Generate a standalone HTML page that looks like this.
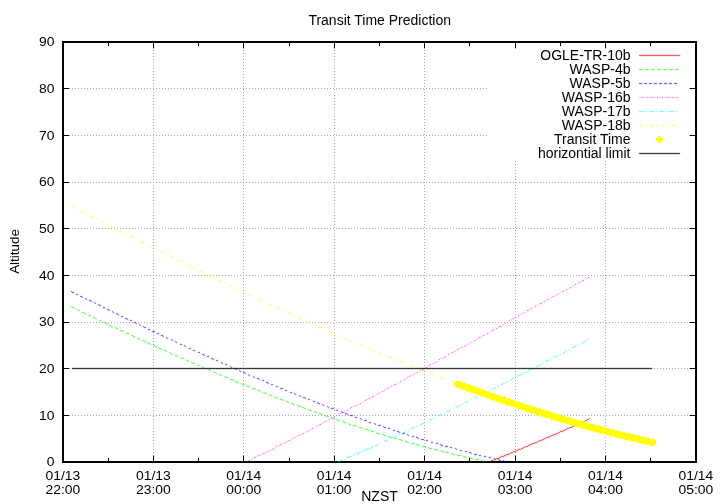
<!DOCTYPE html><html><head><meta charset="utf-8"><title>Transit Time Prediction</title><style>
html,body{margin:0;padding:0;background:#fff;width:720px;height:504px;overflow:hidden}
svg{display:block}
text{font-family:"Liberation Sans", Arial, Helvetica, sans-serif;font-size:14px;fill:#000;letter-spacing:0} .tk{letter-spacing:0} .num{font-size:13px}
</style></head><body>
<svg width="720" height="504" viewBox="0 0 720 504">
<defs><filter id="soft" x="0" y="0" width="720" height="504" filterUnits="userSpaceOnUse" color-interpolation-filters="sRGB"><feConvolveMatrix order="3" kernelMatrix="0.02 0.08 0.02 0.08 0.6 0.08 0.02 0.08 0.02" divisor="1" preserveAlpha="false"/></filter></defs>
<rect width="720" height="504" fill="#fff"/>
<path fill="#a8a8a8" d="M72,415h1v1h-1zM75,415h1v1h-1zM78,415h1v1h-1zM81,415h1v1h-1zM84,415h1v1h-1zM87,415h1v1h-1zM90,415h1v1h-1zM93,415h1v1h-1zM96,415h1v1h-1zM99,415h1v1h-1zM102,415h1v1h-1zM105,415h1v1h-1zM108,415h1v1h-1zM111,415h1v1h-1zM114,415h1v1h-1zM117,415h1v1h-1zM120,415h1v1h-1zM123,415h1v1h-1zM126,415h1v1h-1zM129,415h1v1h-1zM132,415h1v1h-1zM135,415h1v1h-1zM138,415h1v1h-1zM141,415h1v1h-1zM144,415h1v1h-1zM147,415h1v1h-1zM150,415h1v1h-1zM153,415h1v1h-1zM156,415h1v1h-1zM159,415h1v1h-1zM162,415h1v1h-1zM165,415h1v1h-1zM168,415h1v1h-1zM171,415h1v1h-1zM174,415h1v1h-1zM177,415h1v1h-1zM180,415h1v1h-1zM183,415h1v1h-1zM186,415h1v1h-1zM189,415h1v1h-1zM192,415h1v1h-1zM195,415h1v1h-1zM198,415h1v1h-1zM201,415h1v1h-1zM204,415h1v1h-1zM207,415h1v1h-1zM210,415h1v1h-1zM213,415h1v1h-1zM216,415h1v1h-1zM219,415h1v1h-1zM222,415h1v1h-1zM225,415h1v1h-1zM228,415h1v1h-1zM231,415h1v1h-1zM234,415h1v1h-1zM237,415h1v1h-1zM240,415h1v1h-1zM243,415h1v1h-1zM246,415h1v1h-1zM249,415h1v1h-1zM252,415h1v1h-1zM255,415h1v1h-1zM258,415h1v1h-1zM261,415h1v1h-1zM264,415h1v1h-1zM267,415h1v1h-1zM270,415h1v1h-1zM273,415h1v1h-1zM276,415h1v1h-1zM279,415h1v1h-1zM282,415h1v1h-1zM285,415h1v1h-1zM288,415h1v1h-1zM291,415h1v1h-1zM294,415h1v1h-1zM297,415h1v1h-1zM300,415h1v1h-1zM303,415h1v1h-1zM306,415h1v1h-1zM309,415h1v1h-1zM312,415h1v1h-1zM315,415h1v1h-1zM318,415h1v1h-1zM321,415h1v1h-1zM324,415h1v1h-1zM327,415h1v1h-1zM330,415h1v1h-1zM333,415h1v1h-1zM336,415h1v1h-1zM339,415h1v1h-1zM342,415h1v1h-1zM345,415h1v1h-1zM348,415h1v1h-1zM351,415h1v1h-1zM354,415h1v1h-1zM357,415h1v1h-1zM360,415h1v1h-1zM363,415h1v1h-1zM366,415h1v1h-1zM369,415h1v1h-1zM372,415h1v1h-1zM375,415h1v1h-1zM378,415h1v1h-1zM381,415h1v1h-1zM384,415h1v1h-1zM387,415h1v1h-1zM390,415h1v1h-1zM393,415h1v1h-1zM396,415h1v1h-1zM399,415h1v1h-1zM402,415h1v1h-1zM405,415h1v1h-1zM408,415h1v1h-1zM411,415h1v1h-1zM414,415h1v1h-1zM417,415h1v1h-1zM420,415h1v1h-1zM423,415h1v1h-1zM426,415h1v1h-1zM429,415h1v1h-1zM432,415h1v1h-1zM435,415h1v1h-1zM438,415h1v1h-1zM441,415h1v1h-1zM444,415h1v1h-1zM447,415h1v1h-1zM450,415h1v1h-1zM453,415h1v1h-1zM456,415h1v1h-1zM459,415h1v1h-1zM462,415h1v1h-1zM465,415h1v1h-1zM468,415h1v1h-1zM471,415h1v1h-1zM474,415h1v1h-1zM477,415h1v1h-1zM480,415h1v1h-1zM483,415h1v1h-1zM486,415h1v1h-1zM489,415h1v1h-1zM492,415h1v1h-1zM495,415h1v1h-1zM498,415h1v1h-1zM501,415h1v1h-1zM504,415h1v1h-1zM507,415h1v1h-1zM510,415h1v1h-1zM513,415h1v1h-1zM516,415h1v1h-1zM519,415h1v1h-1zM522,415h1v1h-1zM525,415h1v1h-1zM528,415h1v1h-1zM531,415h1v1h-1zM534,415h1v1h-1zM537,415h1v1h-1zM540,415h1v1h-1zM543,415h1v1h-1zM546,415h1v1h-1zM549,415h1v1h-1zM552,415h1v1h-1zM555,415h1v1h-1zM558,415h1v1h-1zM561,415h1v1h-1zM564,415h1v1h-1zM567,415h1v1h-1zM570,415h1v1h-1zM573,415h1v1h-1zM576,415h1v1h-1zM579,415h1v1h-1zM582,415h1v1h-1zM585,415h1v1h-1zM588,415h1v1h-1zM591,415h1v1h-1zM594,415h1v1h-1zM597,415h1v1h-1zM600,415h1v1h-1zM603,415h1v1h-1zM606,415h1v1h-1zM609,415h1v1h-1zM612,415h1v1h-1zM615,415h1v1h-1zM618,415h1v1h-1zM621,415h1v1h-1zM624,415h1v1h-1zM627,415h1v1h-1zM630,415h1v1h-1zM633,415h1v1h-1zM636,415h1v1h-1zM639,415h1v1h-1zM642,415h1v1h-1zM645,415h1v1h-1zM648,415h1v1h-1zM651,415h1v1h-1zM654,415h1v1h-1zM657,415h1v1h-1zM660,415h1v1h-1zM663,415h1v1h-1zM666,415h1v1h-1zM669,415h1v1h-1zM672,415h1v1h-1zM675,415h1v1h-1zM678,415h1v1h-1zM681,415h1v1h-1zM684,415h1v1h-1zM687,415h1v1h-1zM690,415h1v1h-1zM693,415h1v1h-1zM72,368h1v1h-1zM75,368h1v1h-1zM78,368h1v1h-1zM81,368h1v1h-1zM84,368h1v1h-1zM87,368h1v1h-1zM90,368h1v1h-1zM93,368h1v1h-1zM96,368h1v1h-1zM99,368h1v1h-1zM102,368h1v1h-1zM105,368h1v1h-1zM108,368h1v1h-1zM111,368h1v1h-1zM114,368h1v1h-1zM117,368h1v1h-1zM120,368h1v1h-1zM123,368h1v1h-1zM126,368h1v1h-1zM129,368h1v1h-1zM132,368h1v1h-1zM135,368h1v1h-1zM138,368h1v1h-1zM141,368h1v1h-1zM144,368h1v1h-1zM147,368h1v1h-1zM150,368h1v1h-1zM153,368h1v1h-1zM156,368h1v1h-1zM159,368h1v1h-1zM162,368h1v1h-1zM165,368h1v1h-1zM168,368h1v1h-1zM171,368h1v1h-1zM174,368h1v1h-1zM177,368h1v1h-1zM180,368h1v1h-1zM183,368h1v1h-1zM186,368h1v1h-1zM189,368h1v1h-1zM192,368h1v1h-1zM195,368h1v1h-1zM198,368h1v1h-1zM201,368h1v1h-1zM204,368h1v1h-1zM207,368h1v1h-1zM210,368h1v1h-1zM213,368h1v1h-1zM216,368h1v1h-1zM219,368h1v1h-1zM222,368h1v1h-1zM225,368h1v1h-1zM228,368h1v1h-1zM231,368h1v1h-1zM234,368h1v1h-1zM237,368h1v1h-1zM240,368h1v1h-1zM243,368h1v1h-1zM246,368h1v1h-1zM249,368h1v1h-1zM252,368h1v1h-1zM255,368h1v1h-1zM258,368h1v1h-1zM261,368h1v1h-1zM264,368h1v1h-1zM267,368h1v1h-1zM270,368h1v1h-1zM273,368h1v1h-1zM276,368h1v1h-1zM279,368h1v1h-1zM282,368h1v1h-1zM285,368h1v1h-1zM288,368h1v1h-1zM291,368h1v1h-1zM294,368h1v1h-1zM297,368h1v1h-1zM300,368h1v1h-1zM303,368h1v1h-1zM306,368h1v1h-1zM309,368h1v1h-1zM312,368h1v1h-1zM315,368h1v1h-1zM318,368h1v1h-1zM321,368h1v1h-1zM324,368h1v1h-1zM327,368h1v1h-1zM330,368h1v1h-1zM333,368h1v1h-1zM336,368h1v1h-1zM339,368h1v1h-1zM342,368h1v1h-1zM345,368h1v1h-1zM348,368h1v1h-1zM351,368h1v1h-1zM354,368h1v1h-1zM357,368h1v1h-1zM360,368h1v1h-1zM363,368h1v1h-1zM366,368h1v1h-1zM369,368h1v1h-1zM372,368h1v1h-1zM375,368h1v1h-1zM378,368h1v1h-1zM381,368h1v1h-1zM384,368h1v1h-1zM387,368h1v1h-1zM390,368h1v1h-1zM393,368h1v1h-1zM396,368h1v1h-1zM399,368h1v1h-1zM402,368h1v1h-1zM405,368h1v1h-1zM408,368h1v1h-1zM411,368h1v1h-1zM414,368h1v1h-1zM417,368h1v1h-1zM420,368h1v1h-1zM423,368h1v1h-1zM426,368h1v1h-1zM429,368h1v1h-1zM432,368h1v1h-1zM435,368h1v1h-1zM438,368h1v1h-1zM441,368h1v1h-1zM444,368h1v1h-1zM447,368h1v1h-1zM450,368h1v1h-1zM453,368h1v1h-1zM456,368h1v1h-1zM459,368h1v1h-1zM462,368h1v1h-1zM465,368h1v1h-1zM468,368h1v1h-1zM471,368h1v1h-1zM474,368h1v1h-1zM477,368h1v1h-1zM480,368h1v1h-1zM483,368h1v1h-1zM486,368h1v1h-1zM489,368h1v1h-1zM492,368h1v1h-1zM495,368h1v1h-1zM498,368h1v1h-1zM501,368h1v1h-1zM504,368h1v1h-1zM507,368h1v1h-1zM510,368h1v1h-1zM513,368h1v1h-1zM516,368h1v1h-1zM519,368h1v1h-1zM522,368h1v1h-1zM525,368h1v1h-1zM528,368h1v1h-1zM531,368h1v1h-1zM534,368h1v1h-1zM537,368h1v1h-1zM540,368h1v1h-1zM543,368h1v1h-1zM546,368h1v1h-1zM549,368h1v1h-1zM552,368h1v1h-1zM555,368h1v1h-1zM558,368h1v1h-1zM561,368h1v1h-1zM564,368h1v1h-1zM567,368h1v1h-1zM570,368h1v1h-1zM573,368h1v1h-1zM576,368h1v1h-1zM579,368h1v1h-1zM582,368h1v1h-1zM585,368h1v1h-1zM588,368h1v1h-1zM591,368h1v1h-1zM594,368h1v1h-1zM597,368h1v1h-1zM600,368h1v1h-1zM603,368h1v1h-1zM606,368h1v1h-1zM609,368h1v1h-1zM612,368h1v1h-1zM615,368h1v1h-1zM618,368h1v1h-1zM621,368h1v1h-1zM624,368h1v1h-1zM627,368h1v1h-1zM630,368h1v1h-1zM633,368h1v1h-1zM636,368h1v1h-1zM639,368h1v1h-1zM642,368h1v1h-1zM645,368h1v1h-1zM648,368h1v1h-1zM651,368h1v1h-1zM654,368h1v1h-1zM657,368h1v1h-1zM660,368h1v1h-1zM663,368h1v1h-1zM666,368h1v1h-1zM669,368h1v1h-1zM672,368h1v1h-1zM675,368h1v1h-1zM678,368h1v1h-1zM681,368h1v1h-1zM684,368h1v1h-1zM687,368h1v1h-1zM690,368h1v1h-1zM693,368h1v1h-1zM72,322h1v1h-1zM75,322h1v1h-1zM78,322h1v1h-1zM81,322h1v1h-1zM84,322h1v1h-1zM87,322h1v1h-1zM90,322h1v1h-1zM93,322h1v1h-1zM96,322h1v1h-1zM99,322h1v1h-1zM102,322h1v1h-1zM105,322h1v1h-1zM108,322h1v1h-1zM111,322h1v1h-1zM114,322h1v1h-1zM117,322h1v1h-1zM120,322h1v1h-1zM123,322h1v1h-1zM126,322h1v1h-1zM129,322h1v1h-1zM132,322h1v1h-1zM135,322h1v1h-1zM138,322h1v1h-1zM141,322h1v1h-1zM144,322h1v1h-1zM147,322h1v1h-1zM150,322h1v1h-1zM153,322h1v1h-1zM156,322h1v1h-1zM159,322h1v1h-1zM162,322h1v1h-1zM165,322h1v1h-1zM168,322h1v1h-1zM171,322h1v1h-1zM174,322h1v1h-1zM177,322h1v1h-1zM180,322h1v1h-1zM183,322h1v1h-1zM186,322h1v1h-1zM189,322h1v1h-1zM192,322h1v1h-1zM195,322h1v1h-1zM198,322h1v1h-1zM201,322h1v1h-1zM204,322h1v1h-1zM207,322h1v1h-1zM210,322h1v1h-1zM213,322h1v1h-1zM216,322h1v1h-1zM219,322h1v1h-1zM222,322h1v1h-1zM225,322h1v1h-1zM228,322h1v1h-1zM231,322h1v1h-1zM234,322h1v1h-1zM237,322h1v1h-1zM240,322h1v1h-1zM243,322h1v1h-1zM246,322h1v1h-1zM249,322h1v1h-1zM252,322h1v1h-1zM255,322h1v1h-1zM258,322h1v1h-1zM261,322h1v1h-1zM264,322h1v1h-1zM267,322h1v1h-1zM270,322h1v1h-1zM273,322h1v1h-1zM276,322h1v1h-1zM279,322h1v1h-1zM282,322h1v1h-1zM285,322h1v1h-1zM288,322h1v1h-1zM291,322h1v1h-1zM294,322h1v1h-1zM297,322h1v1h-1zM300,322h1v1h-1zM303,322h1v1h-1zM306,322h1v1h-1zM309,322h1v1h-1zM312,322h1v1h-1zM315,322h1v1h-1zM318,322h1v1h-1zM321,322h1v1h-1zM324,322h1v1h-1zM327,322h1v1h-1zM330,322h1v1h-1zM333,322h1v1h-1zM336,322h1v1h-1zM339,322h1v1h-1zM342,322h1v1h-1zM345,322h1v1h-1zM348,322h1v1h-1zM351,322h1v1h-1zM354,322h1v1h-1zM357,322h1v1h-1zM360,322h1v1h-1zM363,322h1v1h-1zM366,322h1v1h-1zM369,322h1v1h-1zM372,322h1v1h-1zM375,322h1v1h-1zM378,322h1v1h-1zM381,322h1v1h-1zM384,322h1v1h-1zM387,322h1v1h-1zM390,322h1v1h-1zM393,322h1v1h-1zM396,322h1v1h-1zM399,322h1v1h-1zM402,322h1v1h-1zM405,322h1v1h-1zM408,322h1v1h-1zM411,322h1v1h-1zM414,322h1v1h-1zM417,322h1v1h-1zM420,322h1v1h-1zM423,322h1v1h-1zM426,322h1v1h-1zM429,322h1v1h-1zM432,322h1v1h-1zM435,322h1v1h-1zM438,322h1v1h-1zM441,322h1v1h-1zM444,322h1v1h-1zM447,322h1v1h-1zM450,322h1v1h-1zM453,322h1v1h-1zM456,322h1v1h-1zM459,322h1v1h-1zM462,322h1v1h-1zM465,322h1v1h-1zM468,322h1v1h-1zM471,322h1v1h-1zM474,322h1v1h-1zM477,322h1v1h-1zM480,322h1v1h-1zM483,322h1v1h-1zM486,322h1v1h-1zM489,322h1v1h-1zM492,322h1v1h-1zM495,322h1v1h-1zM498,322h1v1h-1zM501,322h1v1h-1zM504,322h1v1h-1zM507,322h1v1h-1zM510,322h1v1h-1zM513,322h1v1h-1zM516,322h1v1h-1zM519,322h1v1h-1zM522,322h1v1h-1zM525,322h1v1h-1zM528,322h1v1h-1zM531,322h1v1h-1zM534,322h1v1h-1zM537,322h1v1h-1zM540,322h1v1h-1zM543,322h1v1h-1zM546,322h1v1h-1zM549,322h1v1h-1zM552,322h1v1h-1zM555,322h1v1h-1zM558,322h1v1h-1zM561,322h1v1h-1zM564,322h1v1h-1zM567,322h1v1h-1zM570,322h1v1h-1zM573,322h1v1h-1zM576,322h1v1h-1zM579,322h1v1h-1zM582,322h1v1h-1zM585,322h1v1h-1zM588,322h1v1h-1zM591,322h1v1h-1zM594,322h1v1h-1zM597,322h1v1h-1zM600,322h1v1h-1zM603,322h1v1h-1zM606,322h1v1h-1zM609,322h1v1h-1zM612,322h1v1h-1zM615,322h1v1h-1zM618,322h1v1h-1zM621,322h1v1h-1zM624,322h1v1h-1zM627,322h1v1h-1zM630,322h1v1h-1zM633,322h1v1h-1zM636,322h1v1h-1zM639,322h1v1h-1zM642,322h1v1h-1zM645,322h1v1h-1zM648,322h1v1h-1zM651,322h1v1h-1zM654,322h1v1h-1zM657,322h1v1h-1zM660,322h1v1h-1zM663,322h1v1h-1zM666,322h1v1h-1zM669,322h1v1h-1zM672,322h1v1h-1zM675,322h1v1h-1zM678,322h1v1h-1zM681,322h1v1h-1zM684,322h1v1h-1zM687,322h1v1h-1zM690,322h1v1h-1zM693,322h1v1h-1zM72,275h1v1h-1zM75,275h1v1h-1zM78,275h1v1h-1zM81,275h1v1h-1zM84,275h1v1h-1zM87,275h1v1h-1zM90,275h1v1h-1zM93,275h1v1h-1zM96,275h1v1h-1zM99,275h1v1h-1zM102,275h1v1h-1zM105,275h1v1h-1zM108,275h1v1h-1zM111,275h1v1h-1zM114,275h1v1h-1zM117,275h1v1h-1zM120,275h1v1h-1zM123,275h1v1h-1zM126,275h1v1h-1zM129,275h1v1h-1zM132,275h1v1h-1zM135,275h1v1h-1zM138,275h1v1h-1zM141,275h1v1h-1zM144,275h1v1h-1zM147,275h1v1h-1zM150,275h1v1h-1zM153,275h1v1h-1zM156,275h1v1h-1zM159,275h1v1h-1zM162,275h1v1h-1zM165,275h1v1h-1zM168,275h1v1h-1zM171,275h1v1h-1zM174,275h1v1h-1zM177,275h1v1h-1zM180,275h1v1h-1zM183,275h1v1h-1zM186,275h1v1h-1zM189,275h1v1h-1zM192,275h1v1h-1zM195,275h1v1h-1zM198,275h1v1h-1zM201,275h1v1h-1zM204,275h1v1h-1zM207,275h1v1h-1zM210,275h1v1h-1zM213,275h1v1h-1zM216,275h1v1h-1zM219,275h1v1h-1zM222,275h1v1h-1zM225,275h1v1h-1zM228,275h1v1h-1zM231,275h1v1h-1zM234,275h1v1h-1zM237,275h1v1h-1zM240,275h1v1h-1zM243,275h1v1h-1zM246,275h1v1h-1zM249,275h1v1h-1zM252,275h1v1h-1zM255,275h1v1h-1zM258,275h1v1h-1zM261,275h1v1h-1zM264,275h1v1h-1zM267,275h1v1h-1zM270,275h1v1h-1zM273,275h1v1h-1zM276,275h1v1h-1zM279,275h1v1h-1zM282,275h1v1h-1zM285,275h1v1h-1zM288,275h1v1h-1zM291,275h1v1h-1zM294,275h1v1h-1zM297,275h1v1h-1zM300,275h1v1h-1zM303,275h1v1h-1zM306,275h1v1h-1zM309,275h1v1h-1zM312,275h1v1h-1zM315,275h1v1h-1zM318,275h1v1h-1zM321,275h1v1h-1zM324,275h1v1h-1zM327,275h1v1h-1zM330,275h1v1h-1zM333,275h1v1h-1zM336,275h1v1h-1zM339,275h1v1h-1zM342,275h1v1h-1zM345,275h1v1h-1zM348,275h1v1h-1zM351,275h1v1h-1zM354,275h1v1h-1zM357,275h1v1h-1zM360,275h1v1h-1zM363,275h1v1h-1zM366,275h1v1h-1zM369,275h1v1h-1zM372,275h1v1h-1zM375,275h1v1h-1zM378,275h1v1h-1zM381,275h1v1h-1zM384,275h1v1h-1zM387,275h1v1h-1zM390,275h1v1h-1zM393,275h1v1h-1zM396,275h1v1h-1zM399,275h1v1h-1zM402,275h1v1h-1zM405,275h1v1h-1zM408,275h1v1h-1zM411,275h1v1h-1zM414,275h1v1h-1zM417,275h1v1h-1zM420,275h1v1h-1zM423,275h1v1h-1zM426,275h1v1h-1zM429,275h1v1h-1zM432,275h1v1h-1zM435,275h1v1h-1zM438,275h1v1h-1zM441,275h1v1h-1zM444,275h1v1h-1zM447,275h1v1h-1zM450,275h1v1h-1zM453,275h1v1h-1zM456,275h1v1h-1zM459,275h1v1h-1zM462,275h1v1h-1zM465,275h1v1h-1zM468,275h1v1h-1zM471,275h1v1h-1zM474,275h1v1h-1zM477,275h1v1h-1zM480,275h1v1h-1zM483,275h1v1h-1zM486,275h1v1h-1zM489,275h1v1h-1zM492,275h1v1h-1zM495,275h1v1h-1zM498,275h1v1h-1zM501,275h1v1h-1zM504,275h1v1h-1zM507,275h1v1h-1zM510,275h1v1h-1zM513,275h1v1h-1zM516,275h1v1h-1zM519,275h1v1h-1zM522,275h1v1h-1zM525,275h1v1h-1zM528,275h1v1h-1zM531,275h1v1h-1zM534,275h1v1h-1zM537,275h1v1h-1zM540,275h1v1h-1zM543,275h1v1h-1zM546,275h1v1h-1zM549,275h1v1h-1zM552,275h1v1h-1zM555,275h1v1h-1zM558,275h1v1h-1zM561,275h1v1h-1zM564,275h1v1h-1zM567,275h1v1h-1zM570,275h1v1h-1zM573,275h1v1h-1zM576,275h1v1h-1zM579,275h1v1h-1zM582,275h1v1h-1zM585,275h1v1h-1zM588,275h1v1h-1zM591,275h1v1h-1zM594,275h1v1h-1zM597,275h1v1h-1zM600,275h1v1h-1zM603,275h1v1h-1zM606,275h1v1h-1zM609,275h1v1h-1zM612,275h1v1h-1zM615,275h1v1h-1zM618,275h1v1h-1zM621,275h1v1h-1zM624,275h1v1h-1zM627,275h1v1h-1zM630,275h1v1h-1zM633,275h1v1h-1zM636,275h1v1h-1zM639,275h1v1h-1zM642,275h1v1h-1zM645,275h1v1h-1zM648,275h1v1h-1zM651,275h1v1h-1zM654,275h1v1h-1zM657,275h1v1h-1zM660,275h1v1h-1zM663,275h1v1h-1zM666,275h1v1h-1zM669,275h1v1h-1zM672,275h1v1h-1zM675,275h1v1h-1zM678,275h1v1h-1zM681,275h1v1h-1zM684,275h1v1h-1zM687,275h1v1h-1zM690,275h1v1h-1zM693,275h1v1h-1zM72,228h1v1h-1zM75,228h1v1h-1zM78,228h1v1h-1zM81,228h1v1h-1zM84,228h1v1h-1zM87,228h1v1h-1zM90,228h1v1h-1zM93,228h1v1h-1zM96,228h1v1h-1zM99,228h1v1h-1zM102,228h1v1h-1zM105,228h1v1h-1zM108,228h1v1h-1zM111,228h1v1h-1zM114,228h1v1h-1zM117,228h1v1h-1zM120,228h1v1h-1zM123,228h1v1h-1zM126,228h1v1h-1zM129,228h1v1h-1zM132,228h1v1h-1zM135,228h1v1h-1zM138,228h1v1h-1zM141,228h1v1h-1zM144,228h1v1h-1zM147,228h1v1h-1zM150,228h1v1h-1zM153,228h1v1h-1zM156,228h1v1h-1zM159,228h1v1h-1zM162,228h1v1h-1zM165,228h1v1h-1zM168,228h1v1h-1zM171,228h1v1h-1zM174,228h1v1h-1zM177,228h1v1h-1zM180,228h1v1h-1zM183,228h1v1h-1zM186,228h1v1h-1zM189,228h1v1h-1zM192,228h1v1h-1zM195,228h1v1h-1zM198,228h1v1h-1zM201,228h1v1h-1zM204,228h1v1h-1zM207,228h1v1h-1zM210,228h1v1h-1zM213,228h1v1h-1zM216,228h1v1h-1zM219,228h1v1h-1zM222,228h1v1h-1zM225,228h1v1h-1zM228,228h1v1h-1zM231,228h1v1h-1zM234,228h1v1h-1zM237,228h1v1h-1zM240,228h1v1h-1zM243,228h1v1h-1zM246,228h1v1h-1zM249,228h1v1h-1zM252,228h1v1h-1zM255,228h1v1h-1zM258,228h1v1h-1zM261,228h1v1h-1zM264,228h1v1h-1zM267,228h1v1h-1zM270,228h1v1h-1zM273,228h1v1h-1zM276,228h1v1h-1zM279,228h1v1h-1zM282,228h1v1h-1zM285,228h1v1h-1zM288,228h1v1h-1zM291,228h1v1h-1zM294,228h1v1h-1zM297,228h1v1h-1zM300,228h1v1h-1zM303,228h1v1h-1zM306,228h1v1h-1zM309,228h1v1h-1zM312,228h1v1h-1zM315,228h1v1h-1zM318,228h1v1h-1zM321,228h1v1h-1zM324,228h1v1h-1zM327,228h1v1h-1zM330,228h1v1h-1zM333,228h1v1h-1zM336,228h1v1h-1zM339,228h1v1h-1zM342,228h1v1h-1zM345,228h1v1h-1zM348,228h1v1h-1zM351,228h1v1h-1zM354,228h1v1h-1zM357,228h1v1h-1zM360,228h1v1h-1zM363,228h1v1h-1zM366,228h1v1h-1zM369,228h1v1h-1zM372,228h1v1h-1zM375,228h1v1h-1zM378,228h1v1h-1zM381,228h1v1h-1zM384,228h1v1h-1zM387,228h1v1h-1zM390,228h1v1h-1zM393,228h1v1h-1zM396,228h1v1h-1zM399,228h1v1h-1zM402,228h1v1h-1zM405,228h1v1h-1zM408,228h1v1h-1zM411,228h1v1h-1zM414,228h1v1h-1zM417,228h1v1h-1zM420,228h1v1h-1zM423,228h1v1h-1zM426,228h1v1h-1zM429,228h1v1h-1zM432,228h1v1h-1zM435,228h1v1h-1zM438,228h1v1h-1zM441,228h1v1h-1zM444,228h1v1h-1zM447,228h1v1h-1zM450,228h1v1h-1zM453,228h1v1h-1zM456,228h1v1h-1zM459,228h1v1h-1zM462,228h1v1h-1zM465,228h1v1h-1zM468,228h1v1h-1zM471,228h1v1h-1zM474,228h1v1h-1zM477,228h1v1h-1zM480,228h1v1h-1zM483,228h1v1h-1zM486,228h1v1h-1zM489,228h1v1h-1zM492,228h1v1h-1zM495,228h1v1h-1zM498,228h1v1h-1zM501,228h1v1h-1zM504,228h1v1h-1zM507,228h1v1h-1zM510,228h1v1h-1zM513,228h1v1h-1zM516,228h1v1h-1zM519,228h1v1h-1zM522,228h1v1h-1zM525,228h1v1h-1zM528,228h1v1h-1zM531,228h1v1h-1zM534,228h1v1h-1zM537,228h1v1h-1zM540,228h1v1h-1zM543,228h1v1h-1zM546,228h1v1h-1zM549,228h1v1h-1zM552,228h1v1h-1zM555,228h1v1h-1zM558,228h1v1h-1zM561,228h1v1h-1zM564,228h1v1h-1zM567,228h1v1h-1zM570,228h1v1h-1zM573,228h1v1h-1zM576,228h1v1h-1zM579,228h1v1h-1zM582,228h1v1h-1zM585,228h1v1h-1zM588,228h1v1h-1zM591,228h1v1h-1zM594,228h1v1h-1zM597,228h1v1h-1zM600,228h1v1h-1zM603,228h1v1h-1zM606,228h1v1h-1zM609,228h1v1h-1zM612,228h1v1h-1zM615,228h1v1h-1zM618,228h1v1h-1zM621,228h1v1h-1zM624,228h1v1h-1zM627,228h1v1h-1zM630,228h1v1h-1zM633,228h1v1h-1zM636,228h1v1h-1zM639,228h1v1h-1zM642,228h1v1h-1zM645,228h1v1h-1zM648,228h1v1h-1zM651,228h1v1h-1zM654,228h1v1h-1zM657,228h1v1h-1zM660,228h1v1h-1zM663,228h1v1h-1zM666,228h1v1h-1zM669,228h1v1h-1zM672,228h1v1h-1zM675,228h1v1h-1zM678,228h1v1h-1zM681,228h1v1h-1zM684,228h1v1h-1zM687,228h1v1h-1zM690,228h1v1h-1zM693,228h1v1h-1zM72,182h1v1h-1zM75,182h1v1h-1zM78,182h1v1h-1zM81,182h1v1h-1zM84,182h1v1h-1zM87,182h1v1h-1zM90,182h1v1h-1zM93,182h1v1h-1zM96,182h1v1h-1zM99,182h1v1h-1zM102,182h1v1h-1zM105,182h1v1h-1zM108,182h1v1h-1zM111,182h1v1h-1zM114,182h1v1h-1zM117,182h1v1h-1zM120,182h1v1h-1zM123,182h1v1h-1zM126,182h1v1h-1zM129,182h1v1h-1zM132,182h1v1h-1zM135,182h1v1h-1zM138,182h1v1h-1zM141,182h1v1h-1zM144,182h1v1h-1zM147,182h1v1h-1zM150,182h1v1h-1zM153,182h1v1h-1zM156,182h1v1h-1zM159,182h1v1h-1zM162,182h1v1h-1zM165,182h1v1h-1zM168,182h1v1h-1zM171,182h1v1h-1zM174,182h1v1h-1zM177,182h1v1h-1zM180,182h1v1h-1zM183,182h1v1h-1zM186,182h1v1h-1zM189,182h1v1h-1zM192,182h1v1h-1zM195,182h1v1h-1zM198,182h1v1h-1zM201,182h1v1h-1zM204,182h1v1h-1zM207,182h1v1h-1zM210,182h1v1h-1zM213,182h1v1h-1zM216,182h1v1h-1zM219,182h1v1h-1zM222,182h1v1h-1zM225,182h1v1h-1zM228,182h1v1h-1zM231,182h1v1h-1zM234,182h1v1h-1zM237,182h1v1h-1zM240,182h1v1h-1zM243,182h1v1h-1zM246,182h1v1h-1zM249,182h1v1h-1zM252,182h1v1h-1zM255,182h1v1h-1zM258,182h1v1h-1zM261,182h1v1h-1zM264,182h1v1h-1zM267,182h1v1h-1zM270,182h1v1h-1zM273,182h1v1h-1zM276,182h1v1h-1zM279,182h1v1h-1zM282,182h1v1h-1zM285,182h1v1h-1zM288,182h1v1h-1zM291,182h1v1h-1zM294,182h1v1h-1zM297,182h1v1h-1zM300,182h1v1h-1zM303,182h1v1h-1zM306,182h1v1h-1zM309,182h1v1h-1zM312,182h1v1h-1zM315,182h1v1h-1zM318,182h1v1h-1zM321,182h1v1h-1zM324,182h1v1h-1zM327,182h1v1h-1zM330,182h1v1h-1zM333,182h1v1h-1zM336,182h1v1h-1zM339,182h1v1h-1zM342,182h1v1h-1zM345,182h1v1h-1zM348,182h1v1h-1zM351,182h1v1h-1zM354,182h1v1h-1zM357,182h1v1h-1zM360,182h1v1h-1zM363,182h1v1h-1zM366,182h1v1h-1zM369,182h1v1h-1zM372,182h1v1h-1zM375,182h1v1h-1zM378,182h1v1h-1zM381,182h1v1h-1zM384,182h1v1h-1zM387,182h1v1h-1zM390,182h1v1h-1zM393,182h1v1h-1zM396,182h1v1h-1zM399,182h1v1h-1zM402,182h1v1h-1zM405,182h1v1h-1zM408,182h1v1h-1zM411,182h1v1h-1zM414,182h1v1h-1zM417,182h1v1h-1zM420,182h1v1h-1zM423,182h1v1h-1zM426,182h1v1h-1zM429,182h1v1h-1zM432,182h1v1h-1zM435,182h1v1h-1zM438,182h1v1h-1zM441,182h1v1h-1zM444,182h1v1h-1zM447,182h1v1h-1zM450,182h1v1h-1zM453,182h1v1h-1zM456,182h1v1h-1zM459,182h1v1h-1zM462,182h1v1h-1zM465,182h1v1h-1zM468,182h1v1h-1zM471,182h1v1h-1zM474,182h1v1h-1zM477,182h1v1h-1zM480,182h1v1h-1zM483,182h1v1h-1zM486,182h1v1h-1zM489,182h1v1h-1zM492,182h1v1h-1zM495,182h1v1h-1zM498,182h1v1h-1zM501,182h1v1h-1zM504,182h1v1h-1zM507,182h1v1h-1zM510,182h1v1h-1zM513,182h1v1h-1zM516,182h1v1h-1zM519,182h1v1h-1zM522,182h1v1h-1zM525,182h1v1h-1zM528,182h1v1h-1zM531,182h1v1h-1zM534,182h1v1h-1zM537,182h1v1h-1zM540,182h1v1h-1zM543,182h1v1h-1zM546,182h1v1h-1zM549,182h1v1h-1zM552,182h1v1h-1zM555,182h1v1h-1zM558,182h1v1h-1zM561,182h1v1h-1zM564,182h1v1h-1zM567,182h1v1h-1zM570,182h1v1h-1zM573,182h1v1h-1zM576,182h1v1h-1zM579,182h1v1h-1zM582,182h1v1h-1zM585,182h1v1h-1zM588,182h1v1h-1zM591,182h1v1h-1zM594,182h1v1h-1zM597,182h1v1h-1zM600,182h1v1h-1zM603,182h1v1h-1zM606,182h1v1h-1zM609,182h1v1h-1zM612,182h1v1h-1zM615,182h1v1h-1zM618,182h1v1h-1zM621,182h1v1h-1zM624,182h1v1h-1zM627,182h1v1h-1zM630,182h1v1h-1zM633,182h1v1h-1zM636,182h1v1h-1zM639,182h1v1h-1zM642,182h1v1h-1zM645,182h1v1h-1zM648,182h1v1h-1zM651,182h1v1h-1zM654,182h1v1h-1zM657,182h1v1h-1zM660,182h1v1h-1zM663,182h1v1h-1zM666,182h1v1h-1zM669,182h1v1h-1zM672,182h1v1h-1zM675,182h1v1h-1zM678,182h1v1h-1zM681,182h1v1h-1zM684,182h1v1h-1zM687,182h1v1h-1zM690,182h1v1h-1zM693,182h1v1h-1zM72,135h1v1h-1zM75,135h1v1h-1zM78,135h1v1h-1zM81,135h1v1h-1zM84,135h1v1h-1zM87,135h1v1h-1zM90,135h1v1h-1zM93,135h1v1h-1zM96,135h1v1h-1zM99,135h1v1h-1zM102,135h1v1h-1zM105,135h1v1h-1zM108,135h1v1h-1zM111,135h1v1h-1zM114,135h1v1h-1zM117,135h1v1h-1zM120,135h1v1h-1zM123,135h1v1h-1zM126,135h1v1h-1zM129,135h1v1h-1zM132,135h1v1h-1zM135,135h1v1h-1zM138,135h1v1h-1zM141,135h1v1h-1zM144,135h1v1h-1zM147,135h1v1h-1zM150,135h1v1h-1zM153,135h1v1h-1zM156,135h1v1h-1zM159,135h1v1h-1zM162,135h1v1h-1zM165,135h1v1h-1zM168,135h1v1h-1zM171,135h1v1h-1zM174,135h1v1h-1zM177,135h1v1h-1zM180,135h1v1h-1zM183,135h1v1h-1zM186,135h1v1h-1zM189,135h1v1h-1zM192,135h1v1h-1zM195,135h1v1h-1zM198,135h1v1h-1zM201,135h1v1h-1zM204,135h1v1h-1zM207,135h1v1h-1zM210,135h1v1h-1zM213,135h1v1h-1zM216,135h1v1h-1zM219,135h1v1h-1zM222,135h1v1h-1zM225,135h1v1h-1zM228,135h1v1h-1zM231,135h1v1h-1zM234,135h1v1h-1zM237,135h1v1h-1zM240,135h1v1h-1zM243,135h1v1h-1zM246,135h1v1h-1zM249,135h1v1h-1zM252,135h1v1h-1zM255,135h1v1h-1zM258,135h1v1h-1zM261,135h1v1h-1zM264,135h1v1h-1zM267,135h1v1h-1zM270,135h1v1h-1zM273,135h1v1h-1zM276,135h1v1h-1zM279,135h1v1h-1zM282,135h1v1h-1zM285,135h1v1h-1zM288,135h1v1h-1zM291,135h1v1h-1zM294,135h1v1h-1zM297,135h1v1h-1zM300,135h1v1h-1zM303,135h1v1h-1zM306,135h1v1h-1zM309,135h1v1h-1zM312,135h1v1h-1zM315,135h1v1h-1zM318,135h1v1h-1zM321,135h1v1h-1zM324,135h1v1h-1zM327,135h1v1h-1zM330,135h1v1h-1zM333,135h1v1h-1zM336,135h1v1h-1zM339,135h1v1h-1zM342,135h1v1h-1zM345,135h1v1h-1zM348,135h1v1h-1zM351,135h1v1h-1zM354,135h1v1h-1zM357,135h1v1h-1zM360,135h1v1h-1zM363,135h1v1h-1zM366,135h1v1h-1zM369,135h1v1h-1zM372,135h1v1h-1zM375,135h1v1h-1zM378,135h1v1h-1zM381,135h1v1h-1zM384,135h1v1h-1zM387,135h1v1h-1zM390,135h1v1h-1zM393,135h1v1h-1zM396,135h1v1h-1zM399,135h1v1h-1zM402,135h1v1h-1zM405,135h1v1h-1zM408,135h1v1h-1zM411,135h1v1h-1zM414,135h1v1h-1zM417,135h1v1h-1zM420,135h1v1h-1zM423,135h1v1h-1zM426,135h1v1h-1zM429,135h1v1h-1zM432,135h1v1h-1zM435,135h1v1h-1zM438,135h1v1h-1zM441,135h1v1h-1zM444,135h1v1h-1zM447,135h1v1h-1zM450,135h1v1h-1zM453,135h1v1h-1zM456,135h1v1h-1zM459,135h1v1h-1zM462,135h1v1h-1zM465,135h1v1h-1zM468,135h1v1h-1zM471,135h1v1h-1zM474,135h1v1h-1zM477,135h1v1h-1zM480,135h1v1h-1zM483,135h1v1h-1zM486,135h1v1h-1zM72,88h1v1h-1zM75,88h1v1h-1zM78,88h1v1h-1zM81,88h1v1h-1zM84,88h1v1h-1zM87,88h1v1h-1zM90,88h1v1h-1zM93,88h1v1h-1zM96,88h1v1h-1zM99,88h1v1h-1zM102,88h1v1h-1zM105,88h1v1h-1zM108,88h1v1h-1zM111,88h1v1h-1zM114,88h1v1h-1zM117,88h1v1h-1zM120,88h1v1h-1zM123,88h1v1h-1zM126,88h1v1h-1zM129,88h1v1h-1zM132,88h1v1h-1zM135,88h1v1h-1zM138,88h1v1h-1zM141,88h1v1h-1zM144,88h1v1h-1zM147,88h1v1h-1zM150,88h1v1h-1zM153,88h1v1h-1zM156,88h1v1h-1zM159,88h1v1h-1zM162,88h1v1h-1zM165,88h1v1h-1zM168,88h1v1h-1zM171,88h1v1h-1zM174,88h1v1h-1zM177,88h1v1h-1zM180,88h1v1h-1zM183,88h1v1h-1zM186,88h1v1h-1zM189,88h1v1h-1zM192,88h1v1h-1zM195,88h1v1h-1zM198,88h1v1h-1zM201,88h1v1h-1zM204,88h1v1h-1zM207,88h1v1h-1zM210,88h1v1h-1zM213,88h1v1h-1zM216,88h1v1h-1zM219,88h1v1h-1zM222,88h1v1h-1zM225,88h1v1h-1zM228,88h1v1h-1zM231,88h1v1h-1zM234,88h1v1h-1zM237,88h1v1h-1zM240,88h1v1h-1zM243,88h1v1h-1zM246,88h1v1h-1zM249,88h1v1h-1zM252,88h1v1h-1zM255,88h1v1h-1zM258,88h1v1h-1zM261,88h1v1h-1zM264,88h1v1h-1zM267,88h1v1h-1zM270,88h1v1h-1zM273,88h1v1h-1zM276,88h1v1h-1zM279,88h1v1h-1zM282,88h1v1h-1zM285,88h1v1h-1zM288,88h1v1h-1zM291,88h1v1h-1zM294,88h1v1h-1zM297,88h1v1h-1zM300,88h1v1h-1zM303,88h1v1h-1zM306,88h1v1h-1zM309,88h1v1h-1zM312,88h1v1h-1zM315,88h1v1h-1zM318,88h1v1h-1zM321,88h1v1h-1zM324,88h1v1h-1zM327,88h1v1h-1zM330,88h1v1h-1zM333,88h1v1h-1zM336,88h1v1h-1zM339,88h1v1h-1zM342,88h1v1h-1zM345,88h1v1h-1zM348,88h1v1h-1zM351,88h1v1h-1zM354,88h1v1h-1zM357,88h1v1h-1zM360,88h1v1h-1zM363,88h1v1h-1zM366,88h1v1h-1zM369,88h1v1h-1zM372,88h1v1h-1zM375,88h1v1h-1zM378,88h1v1h-1zM381,88h1v1h-1zM384,88h1v1h-1zM387,88h1v1h-1zM390,88h1v1h-1zM393,88h1v1h-1zM396,88h1v1h-1zM399,88h1v1h-1zM402,88h1v1h-1zM405,88h1v1h-1zM408,88h1v1h-1zM411,88h1v1h-1zM414,88h1v1h-1zM417,88h1v1h-1zM420,88h1v1h-1zM423,88h1v1h-1zM426,88h1v1h-1zM429,88h1v1h-1zM432,88h1v1h-1zM435,88h1v1h-1zM438,88h1v1h-1zM441,88h1v1h-1zM444,88h1v1h-1zM447,88h1v1h-1zM450,88h1v1h-1zM453,88h1v1h-1zM456,88h1v1h-1zM459,88h1v1h-1zM462,88h1v1h-1zM465,88h1v1h-1zM468,88h1v1h-1zM471,88h1v1h-1zM474,88h1v1h-1zM477,88h1v1h-1zM480,88h1v1h-1zM483,88h1v1h-1zM486,88h1v1h-1zM153,47h1v1h-1zM153,50h1v1h-1zM153,53h1v1h-1zM153,56h1v1h-1zM153,59h1v1h-1zM153,62h1v1h-1zM153,65h1v1h-1zM153,68h1v1h-1zM153,71h1v1h-1zM153,74h1v1h-1zM153,77h1v1h-1zM153,80h1v1h-1zM153,83h1v1h-1zM153,86h1v1h-1zM153,89h1v1h-1zM153,92h1v1h-1zM153,95h1v1h-1zM153,98h1v1h-1zM153,101h1v1h-1zM153,104h1v1h-1zM153,107h1v1h-1zM153,110h1v1h-1zM153,113h1v1h-1zM153,116h1v1h-1zM153,119h1v1h-1zM153,122h1v1h-1zM153,125h1v1h-1zM153,128h1v1h-1zM153,131h1v1h-1zM153,134h1v1h-1zM153,137h1v1h-1zM153,140h1v1h-1zM153,143h1v1h-1zM153,146h1v1h-1zM153,149h1v1h-1zM153,152h1v1h-1zM153,155h1v1h-1zM153,158h1v1h-1zM153,161h1v1h-1zM153,164h1v1h-1zM153,167h1v1h-1zM153,170h1v1h-1zM153,173h1v1h-1zM153,176h1v1h-1zM153,179h1v1h-1zM153,182h1v1h-1zM153,185h1v1h-1zM153,188h1v1h-1zM153,191h1v1h-1zM153,194h1v1h-1zM153,197h1v1h-1zM153,200h1v1h-1zM153,203h1v1h-1zM153,206h1v1h-1zM153,209h1v1h-1zM153,212h1v1h-1zM153,215h1v1h-1zM153,218h1v1h-1zM153,221h1v1h-1zM153,224h1v1h-1zM153,227h1v1h-1zM153,230h1v1h-1zM153,233h1v1h-1zM153,236h1v1h-1zM153,239h1v1h-1zM153,242h1v1h-1zM153,245h1v1h-1zM153,248h1v1h-1zM153,251h1v1h-1zM153,254h1v1h-1zM153,257h1v1h-1zM153,260h1v1h-1zM153,263h1v1h-1zM153,266h1v1h-1zM153,269h1v1h-1zM153,272h1v1h-1zM153,275h1v1h-1zM153,278h1v1h-1zM153,281h1v1h-1zM153,284h1v1h-1zM153,287h1v1h-1zM153,290h1v1h-1zM153,293h1v1h-1zM153,296h1v1h-1zM153,299h1v1h-1zM153,302h1v1h-1zM153,305h1v1h-1zM153,308h1v1h-1zM153,311h1v1h-1zM153,314h1v1h-1zM153,317h1v1h-1zM153,320h1v1h-1zM153,323h1v1h-1zM153,326h1v1h-1zM153,329h1v1h-1zM153,332h1v1h-1zM153,335h1v1h-1zM153,338h1v1h-1zM153,341h1v1h-1zM153,344h1v1h-1zM153,347h1v1h-1zM153,350h1v1h-1zM153,353h1v1h-1zM153,356h1v1h-1zM153,359h1v1h-1zM153,362h1v1h-1zM153,365h1v1h-1zM153,368h1v1h-1zM153,371h1v1h-1zM153,374h1v1h-1zM153,377h1v1h-1zM153,380h1v1h-1zM153,383h1v1h-1zM153,386h1v1h-1zM153,389h1v1h-1zM153,392h1v1h-1zM153,395h1v1h-1zM153,398h1v1h-1zM153,401h1v1h-1zM153,404h1v1h-1zM153,407h1v1h-1zM153,410h1v1h-1zM153,413h1v1h-1zM153,416h1v1h-1zM153,419h1v1h-1zM153,422h1v1h-1zM153,425h1v1h-1zM153,428h1v1h-1zM153,431h1v1h-1zM153,434h1v1h-1zM153,437h1v1h-1zM153,440h1v1h-1zM153,443h1v1h-1zM153,446h1v1h-1zM153,449h1v1h-1zM153,452h1v1h-1zM153,455h1v1h-1zM153,458h1v1h-1zM243,47h1v1h-1zM243,50h1v1h-1zM243,53h1v1h-1zM243,56h1v1h-1zM243,59h1v1h-1zM243,62h1v1h-1zM243,65h1v1h-1zM243,68h1v1h-1zM243,71h1v1h-1zM243,74h1v1h-1zM243,77h1v1h-1zM243,80h1v1h-1zM243,83h1v1h-1zM243,86h1v1h-1zM243,89h1v1h-1zM243,92h1v1h-1zM243,95h1v1h-1zM243,98h1v1h-1zM243,101h1v1h-1zM243,104h1v1h-1zM243,107h1v1h-1zM243,110h1v1h-1zM243,113h1v1h-1zM243,116h1v1h-1zM243,119h1v1h-1zM243,122h1v1h-1zM243,125h1v1h-1zM243,128h1v1h-1zM243,131h1v1h-1zM243,134h1v1h-1zM243,137h1v1h-1zM243,140h1v1h-1zM243,143h1v1h-1zM243,146h1v1h-1zM243,149h1v1h-1zM243,152h1v1h-1zM243,155h1v1h-1zM243,158h1v1h-1zM243,161h1v1h-1zM243,164h1v1h-1zM243,167h1v1h-1zM243,170h1v1h-1zM243,173h1v1h-1zM243,176h1v1h-1zM243,179h1v1h-1zM243,182h1v1h-1zM243,185h1v1h-1zM243,188h1v1h-1zM243,191h1v1h-1zM243,194h1v1h-1zM243,197h1v1h-1zM243,200h1v1h-1zM243,203h1v1h-1zM243,206h1v1h-1zM243,209h1v1h-1zM243,212h1v1h-1zM243,215h1v1h-1zM243,218h1v1h-1zM243,221h1v1h-1zM243,224h1v1h-1zM243,227h1v1h-1zM243,230h1v1h-1zM243,233h1v1h-1zM243,236h1v1h-1zM243,239h1v1h-1zM243,242h1v1h-1zM243,245h1v1h-1zM243,248h1v1h-1zM243,251h1v1h-1zM243,254h1v1h-1zM243,257h1v1h-1zM243,260h1v1h-1zM243,263h1v1h-1zM243,266h1v1h-1zM243,269h1v1h-1zM243,272h1v1h-1zM243,275h1v1h-1zM243,278h1v1h-1zM243,281h1v1h-1zM243,284h1v1h-1zM243,287h1v1h-1zM243,290h1v1h-1zM243,293h1v1h-1zM243,296h1v1h-1zM243,299h1v1h-1zM243,302h1v1h-1zM243,305h1v1h-1zM243,308h1v1h-1zM243,311h1v1h-1zM243,314h1v1h-1zM243,317h1v1h-1zM243,320h1v1h-1zM243,323h1v1h-1zM243,326h1v1h-1zM243,329h1v1h-1zM243,332h1v1h-1zM243,335h1v1h-1zM243,338h1v1h-1zM243,341h1v1h-1zM243,344h1v1h-1zM243,347h1v1h-1zM243,350h1v1h-1zM243,353h1v1h-1zM243,356h1v1h-1zM243,359h1v1h-1zM243,362h1v1h-1zM243,365h1v1h-1zM243,368h1v1h-1zM243,371h1v1h-1zM243,374h1v1h-1zM243,377h1v1h-1zM243,380h1v1h-1zM243,383h1v1h-1zM243,386h1v1h-1zM243,389h1v1h-1zM243,392h1v1h-1zM243,395h1v1h-1zM243,398h1v1h-1zM243,401h1v1h-1zM243,404h1v1h-1zM243,407h1v1h-1zM243,410h1v1h-1zM243,413h1v1h-1zM243,416h1v1h-1zM243,419h1v1h-1zM243,422h1v1h-1zM243,425h1v1h-1zM243,428h1v1h-1zM243,431h1v1h-1zM243,434h1v1h-1zM243,437h1v1h-1zM243,440h1v1h-1zM243,443h1v1h-1zM243,446h1v1h-1zM243,449h1v1h-1zM243,452h1v1h-1zM243,455h1v1h-1zM243,458h1v1h-1zM334,47h1v1h-1zM334,50h1v1h-1zM334,53h1v1h-1zM334,56h1v1h-1zM334,59h1v1h-1zM334,62h1v1h-1zM334,65h1v1h-1zM334,68h1v1h-1zM334,71h1v1h-1zM334,74h1v1h-1zM334,77h1v1h-1zM334,80h1v1h-1zM334,83h1v1h-1zM334,86h1v1h-1zM334,89h1v1h-1zM334,92h1v1h-1zM334,95h1v1h-1zM334,98h1v1h-1zM334,101h1v1h-1zM334,104h1v1h-1zM334,107h1v1h-1zM334,110h1v1h-1zM334,113h1v1h-1zM334,116h1v1h-1zM334,119h1v1h-1zM334,122h1v1h-1zM334,125h1v1h-1zM334,128h1v1h-1zM334,131h1v1h-1zM334,134h1v1h-1zM334,137h1v1h-1zM334,140h1v1h-1zM334,143h1v1h-1zM334,146h1v1h-1zM334,149h1v1h-1zM334,152h1v1h-1zM334,155h1v1h-1zM334,158h1v1h-1zM334,161h1v1h-1zM334,164h1v1h-1zM334,167h1v1h-1zM334,170h1v1h-1zM334,173h1v1h-1zM334,176h1v1h-1zM334,179h1v1h-1zM334,182h1v1h-1zM334,185h1v1h-1zM334,188h1v1h-1zM334,191h1v1h-1zM334,194h1v1h-1zM334,197h1v1h-1zM334,200h1v1h-1zM334,203h1v1h-1zM334,206h1v1h-1zM334,209h1v1h-1zM334,212h1v1h-1zM334,215h1v1h-1zM334,218h1v1h-1zM334,221h1v1h-1zM334,224h1v1h-1zM334,227h1v1h-1zM334,230h1v1h-1zM334,233h1v1h-1zM334,236h1v1h-1zM334,239h1v1h-1zM334,242h1v1h-1zM334,245h1v1h-1zM334,248h1v1h-1zM334,251h1v1h-1zM334,254h1v1h-1zM334,257h1v1h-1zM334,260h1v1h-1zM334,263h1v1h-1zM334,266h1v1h-1zM334,269h1v1h-1zM334,272h1v1h-1zM334,275h1v1h-1zM334,278h1v1h-1zM334,281h1v1h-1zM334,284h1v1h-1zM334,287h1v1h-1zM334,290h1v1h-1zM334,293h1v1h-1zM334,296h1v1h-1zM334,299h1v1h-1zM334,302h1v1h-1zM334,305h1v1h-1zM334,308h1v1h-1zM334,311h1v1h-1zM334,314h1v1h-1zM334,317h1v1h-1zM334,320h1v1h-1zM334,323h1v1h-1zM334,326h1v1h-1zM334,329h1v1h-1zM334,332h1v1h-1zM334,335h1v1h-1zM334,338h1v1h-1zM334,341h1v1h-1zM334,344h1v1h-1zM334,347h1v1h-1zM334,350h1v1h-1zM334,353h1v1h-1zM334,356h1v1h-1zM334,359h1v1h-1zM334,362h1v1h-1zM334,365h1v1h-1zM334,368h1v1h-1zM334,371h1v1h-1zM334,374h1v1h-1zM334,377h1v1h-1zM334,380h1v1h-1zM334,383h1v1h-1zM334,386h1v1h-1zM334,389h1v1h-1zM334,392h1v1h-1zM334,395h1v1h-1zM334,398h1v1h-1zM334,401h1v1h-1zM334,404h1v1h-1zM334,407h1v1h-1zM334,410h1v1h-1zM334,413h1v1h-1zM334,416h1v1h-1zM334,419h1v1h-1zM334,422h1v1h-1zM334,425h1v1h-1zM334,428h1v1h-1zM334,431h1v1h-1zM334,434h1v1h-1zM334,437h1v1h-1zM334,440h1v1h-1zM334,443h1v1h-1zM334,446h1v1h-1zM334,449h1v1h-1zM334,452h1v1h-1zM334,455h1v1h-1zM334,458h1v1h-1zM424,47h1v1h-1zM424,50h1v1h-1zM424,53h1v1h-1zM424,56h1v1h-1zM424,59h1v1h-1zM424,62h1v1h-1zM424,65h1v1h-1zM424,68h1v1h-1zM424,71h1v1h-1zM424,74h1v1h-1zM424,77h1v1h-1zM424,80h1v1h-1zM424,83h1v1h-1zM424,86h1v1h-1zM424,89h1v1h-1zM424,92h1v1h-1zM424,95h1v1h-1zM424,98h1v1h-1zM424,101h1v1h-1zM424,104h1v1h-1zM424,107h1v1h-1zM424,110h1v1h-1zM424,113h1v1h-1zM424,116h1v1h-1zM424,119h1v1h-1zM424,122h1v1h-1zM424,125h1v1h-1zM424,128h1v1h-1zM424,131h1v1h-1zM424,134h1v1h-1zM424,137h1v1h-1zM424,140h1v1h-1zM424,143h1v1h-1zM424,146h1v1h-1zM424,149h1v1h-1zM424,152h1v1h-1zM424,155h1v1h-1zM424,158h1v1h-1zM424,161h1v1h-1zM424,164h1v1h-1zM424,167h1v1h-1zM424,170h1v1h-1zM424,173h1v1h-1zM424,176h1v1h-1zM424,179h1v1h-1zM424,182h1v1h-1zM424,185h1v1h-1zM424,188h1v1h-1zM424,191h1v1h-1zM424,194h1v1h-1zM424,197h1v1h-1zM424,200h1v1h-1zM424,203h1v1h-1zM424,206h1v1h-1zM424,209h1v1h-1zM424,212h1v1h-1zM424,215h1v1h-1zM424,218h1v1h-1zM424,221h1v1h-1zM424,224h1v1h-1zM424,227h1v1h-1zM424,230h1v1h-1zM424,233h1v1h-1zM424,236h1v1h-1zM424,239h1v1h-1zM424,242h1v1h-1zM424,245h1v1h-1zM424,248h1v1h-1zM424,251h1v1h-1zM424,254h1v1h-1zM424,257h1v1h-1zM424,260h1v1h-1zM424,263h1v1h-1zM424,266h1v1h-1zM424,269h1v1h-1zM424,272h1v1h-1zM424,275h1v1h-1zM424,278h1v1h-1zM424,281h1v1h-1zM424,284h1v1h-1zM424,287h1v1h-1zM424,290h1v1h-1zM424,293h1v1h-1zM424,296h1v1h-1zM424,299h1v1h-1zM424,302h1v1h-1zM424,305h1v1h-1zM424,308h1v1h-1zM424,311h1v1h-1zM424,314h1v1h-1zM424,317h1v1h-1zM424,320h1v1h-1zM424,323h1v1h-1zM424,326h1v1h-1zM424,329h1v1h-1zM424,332h1v1h-1zM424,335h1v1h-1zM424,338h1v1h-1zM424,341h1v1h-1zM424,344h1v1h-1zM424,347h1v1h-1zM424,350h1v1h-1zM424,353h1v1h-1zM424,356h1v1h-1zM424,359h1v1h-1zM424,362h1v1h-1zM424,365h1v1h-1zM424,368h1v1h-1zM424,371h1v1h-1zM424,374h1v1h-1zM424,377h1v1h-1zM424,380h1v1h-1zM424,383h1v1h-1zM424,386h1v1h-1zM424,389h1v1h-1zM424,392h1v1h-1zM424,395h1v1h-1zM424,398h1v1h-1zM424,401h1v1h-1zM424,404h1v1h-1zM424,407h1v1h-1zM424,410h1v1h-1zM424,413h1v1h-1zM424,416h1v1h-1zM424,419h1v1h-1zM424,422h1v1h-1zM424,425h1v1h-1zM424,428h1v1h-1zM424,431h1v1h-1zM424,434h1v1h-1zM424,437h1v1h-1zM424,440h1v1h-1zM424,443h1v1h-1zM424,446h1v1h-1zM424,449h1v1h-1zM424,452h1v1h-1zM424,455h1v1h-1zM424,458h1v1h-1zM515,161h1v1h-1zM515,164h1v1h-1zM515,167h1v1h-1zM515,170h1v1h-1zM515,173h1v1h-1zM515,176h1v1h-1zM515,179h1v1h-1zM515,182h1v1h-1zM515,185h1v1h-1zM515,188h1v1h-1zM515,191h1v1h-1zM515,194h1v1h-1zM515,197h1v1h-1zM515,200h1v1h-1zM515,203h1v1h-1zM515,206h1v1h-1zM515,209h1v1h-1zM515,212h1v1h-1zM515,215h1v1h-1zM515,218h1v1h-1zM515,221h1v1h-1zM515,224h1v1h-1zM515,227h1v1h-1zM515,230h1v1h-1zM515,233h1v1h-1zM515,236h1v1h-1zM515,239h1v1h-1zM515,242h1v1h-1zM515,245h1v1h-1zM515,248h1v1h-1zM515,251h1v1h-1zM515,254h1v1h-1zM515,257h1v1h-1zM515,260h1v1h-1zM515,263h1v1h-1zM515,266h1v1h-1zM515,269h1v1h-1zM515,272h1v1h-1zM515,275h1v1h-1zM515,278h1v1h-1zM515,281h1v1h-1zM515,284h1v1h-1zM515,287h1v1h-1zM515,290h1v1h-1zM515,293h1v1h-1zM515,296h1v1h-1zM515,299h1v1h-1zM515,302h1v1h-1zM515,305h1v1h-1zM515,308h1v1h-1zM515,311h1v1h-1zM515,314h1v1h-1zM515,317h1v1h-1zM515,320h1v1h-1zM515,323h1v1h-1zM515,326h1v1h-1zM515,329h1v1h-1zM515,332h1v1h-1zM515,335h1v1h-1zM515,338h1v1h-1zM515,341h1v1h-1zM515,344h1v1h-1zM515,347h1v1h-1zM515,350h1v1h-1zM515,353h1v1h-1zM515,356h1v1h-1zM515,359h1v1h-1zM515,362h1v1h-1zM515,365h1v1h-1zM515,368h1v1h-1zM515,371h1v1h-1zM515,374h1v1h-1zM515,377h1v1h-1zM515,380h1v1h-1zM515,383h1v1h-1zM515,386h1v1h-1zM515,389h1v1h-1zM515,392h1v1h-1zM515,395h1v1h-1zM515,398h1v1h-1zM515,401h1v1h-1zM515,404h1v1h-1zM515,407h1v1h-1zM515,410h1v1h-1zM515,413h1v1h-1zM515,416h1v1h-1zM515,419h1v1h-1zM515,422h1v1h-1zM515,425h1v1h-1zM515,428h1v1h-1zM515,431h1v1h-1zM515,434h1v1h-1zM515,437h1v1h-1zM515,440h1v1h-1zM515,443h1v1h-1zM515,446h1v1h-1zM515,449h1v1h-1zM515,452h1v1h-1zM515,455h1v1h-1zM515,458h1v1h-1zM605,161h1v1h-1zM605,164h1v1h-1zM605,167h1v1h-1zM605,170h1v1h-1zM605,173h1v1h-1zM605,176h1v1h-1zM605,179h1v1h-1zM605,182h1v1h-1zM605,185h1v1h-1zM605,188h1v1h-1zM605,191h1v1h-1zM605,194h1v1h-1zM605,197h1v1h-1zM605,200h1v1h-1zM605,203h1v1h-1zM605,206h1v1h-1zM605,209h1v1h-1zM605,212h1v1h-1zM605,215h1v1h-1zM605,218h1v1h-1zM605,221h1v1h-1zM605,224h1v1h-1zM605,227h1v1h-1zM605,230h1v1h-1zM605,233h1v1h-1zM605,236h1v1h-1zM605,239h1v1h-1zM605,242h1v1h-1zM605,245h1v1h-1zM605,248h1v1h-1zM605,251h1v1h-1zM605,254h1v1h-1zM605,257h1v1h-1zM605,260h1v1h-1zM605,263h1v1h-1zM605,266h1v1h-1zM605,269h1v1h-1zM605,272h1v1h-1zM605,275h1v1h-1zM605,278h1v1h-1zM605,281h1v1h-1zM605,284h1v1h-1zM605,287h1v1h-1zM605,290h1v1h-1zM605,293h1v1h-1zM605,296h1v1h-1zM605,299h1v1h-1zM605,302h1v1h-1zM605,305h1v1h-1zM605,308h1v1h-1zM605,311h1v1h-1zM605,314h1v1h-1zM605,317h1v1h-1zM605,320h1v1h-1zM605,323h1v1h-1zM605,326h1v1h-1zM605,329h1v1h-1zM605,332h1v1h-1zM605,335h1v1h-1zM605,338h1v1h-1zM605,341h1v1h-1zM605,344h1v1h-1zM605,347h1v1h-1zM605,350h1v1h-1zM605,353h1v1h-1zM605,356h1v1h-1zM605,359h1v1h-1zM605,362h1v1h-1zM605,365h1v1h-1zM605,368h1v1h-1zM605,371h1v1h-1zM605,374h1v1h-1zM605,377h1v1h-1zM605,380h1v1h-1zM605,383h1v1h-1zM605,386h1v1h-1zM605,389h1v1h-1zM605,392h1v1h-1zM605,395h1v1h-1zM605,398h1v1h-1zM605,401h1v1h-1zM605,404h1v1h-1zM605,407h1v1h-1zM605,410h1v1h-1zM605,413h1v1h-1zM605,416h1v1h-1zM605,419h1v1h-1zM605,422h1v1h-1zM605,425h1v1h-1zM605,428h1v1h-1zM605,431h1v1h-1zM605,434h1v1h-1zM605,437h1v1h-1zM605,440h1v1h-1zM605,443h1v1h-1zM605,446h1v1h-1zM605,449h1v1h-1zM605,452h1v1h-1zM605,455h1v1h-1zM605,458h1v1h-1z"/>
<text x="379.7" y="24.9" text-anchor="middle">Transit Time Prediction</text>
<text transform="translate(54.4,466.40) scale(1.07,1)" text-anchor="end" class="num">0</text>
<text transform="translate(54.4,419.73) scale(1.07,1)" text-anchor="end" class="num">10</text>
<text transform="translate(54.4,373.07) scale(1.07,1)" text-anchor="end" class="num">20</text>
<text transform="translate(54.4,326.40) scale(1.07,1)" text-anchor="end" class="num">30</text>
<text transform="translate(54.4,279.73) scale(1.07,1)" text-anchor="end" class="num">40</text>
<text transform="translate(54.4,233.07) scale(1.07,1)" text-anchor="end" class="num">50</text>
<text transform="translate(54.4,186.40) scale(1.07,1)" text-anchor="end" class="num">60</text>
<text transform="translate(54.4,139.73) scale(1.07,1)" text-anchor="end" class="num">70</text>
<text transform="translate(54.4,93.07) scale(1.07,1)" text-anchor="end" class="num">80</text>
<text transform="translate(54.4,46.40) scale(1.07,1)" text-anchor="end" class="num">90</text>
<text transform="translate(62.90,479.9) scale(1.07,1)" text-anchor="middle" class="num">01/13</text>
<text transform="translate(62.90,494) scale(1.07,1)" text-anchor="middle" class="num">22:00</text>
<text transform="translate(153.33,479.9) scale(1.07,1)" text-anchor="middle" class="num">01/13</text>
<text transform="translate(153.33,494) scale(1.07,1)" text-anchor="middle" class="num">23:00</text>
<text transform="translate(243.76,479.9) scale(1.07,1)" text-anchor="middle" class="num">01/14</text>
<text transform="translate(243.76,494) scale(1.07,1)" text-anchor="middle" class="num">00:00</text>
<text transform="translate(334.19,479.9) scale(1.07,1)" text-anchor="middle" class="num">01/14</text>
<text transform="translate(334.19,494) scale(1.07,1)" text-anchor="middle" class="num">01:00</text>
<text transform="translate(424.62,479.9) scale(1.07,1)" text-anchor="middle" class="num">01/14</text>
<text transform="translate(424.62,494) scale(1.07,1)" text-anchor="middle" class="num">02:00</text>
<text transform="translate(515.05,479.9) scale(1.07,1)" text-anchor="middle" class="num">01/14</text>
<text transform="translate(515.05,494) scale(1.07,1)" text-anchor="middle" class="num">03:00</text>
<text transform="translate(605.48,479.9) scale(1.07,1)" text-anchor="middle" class="num">01/14</text>
<text transform="translate(605.48,494) scale(1.07,1)" text-anchor="middle" class="num">04:00</text>
<text transform="translate(695.91,479.9) scale(1.07,1)" text-anchor="middle" class="num">01/14</text>
<text transform="translate(695.91,494) scale(1.07,1)" text-anchor="middle" class="num">05:00</text>
<text x="379.5" y="500.7" text-anchor="middle" class="tk">NZST</text>
<text transform="translate(18.8,251.5) rotate(-90) scale(1.033,1)" text-anchor="middle" style="font-size:13px">Altitude</text>
<path fill="#000" d="M62,41H697V43H62Z M62,461H697V463H62Z M62,41H64V463H62Z M695,41H697V463H695Z"/>
<path fill="#000" d="M64,415h5v1h-5z M690,415h5v1h-5zM64,368h5v1h-5z M690,368h5v1h-5zM64,322h5v1h-5z M690,322h5v1h-5zM64,275h5v1h-5z M690,275h5v1h-5zM64,228h5v1h-5z M690,228h5v1h-5zM64,182h5v1h-5z M690,182h5v1h-5zM64,135h5v1h-5z M690,135h5v1h-5zM64,88h5v1h-5z M690,88h5v1h-5zM153,456h1v5h-1z M153,43h1v5h-1zM243,456h1v5h-1z M243,43h1v5h-1zM334,456h1v5h-1z M334,43h1v5h-1zM424,456h1v5h-1z M424,43h1v5h-1zM515,456h1v5h-1z M515,43h1v5h-1zM605,456h1v5h-1z M605,43h1v5h-1zM108,458h1v3h-1z M108,43h1v3h-1zM198,458h1v3h-1z M198,43h1v3h-1zM289,458h1v3h-1z M289,43h1v3h-1zM379,458h1v3h-1z M379,43h1v3h-1zM469,458h1v3h-1z M469,43h1v3h-1zM560,458h1v3h-1z M560,43h1v3h-1zM650,458h1v3h-1z M650,43h1v3h-1z"/>
<path fill="#000" fill-opacity="0.35" d="M69,415h1v1h-1z M689,415h1v1h-1zM69,368h1v1h-1z M689,368h1v1h-1zM69,322h1v1h-1z M689,322h1v1h-1zM69,275h1v1h-1z M689,275h1v1h-1zM69,228h1v1h-1z M689,228h1v1h-1zM69,182h1v1h-1z M689,182h1v1h-1zM69,135h1v1h-1z M689,135h1v1h-1zM69,88h1v1h-1z M689,88h1v1h-1zM153,455h1v1h-1z M153,48h1v1h-1zM243,455h1v1h-1z M243,48h1v1h-1zM334,455h1v1h-1z M334,48h1v1h-1zM424,455h1v1h-1z M424,48h1v1h-1zM515,455h1v1h-1z M515,48h1v1h-1zM605,455h1v1h-1z M605,48h1v1h-1z"/>
<g filter="url(#soft)">
<path fill="#00ff00" fill-opacity="0.8" d="M71,306h1v1h-1zM72,307h1v1h-1zM73,307h1v1h-1zM74,308h1v1h-1zM77,309h1v1h-1zM78,310h1v1h-1zM79,310h1v1h-1zM82,312h1v1h-1zM83,312h1v1h-1zM84,313h1v1h-1zM85,313h1v1h-1zM88,315h1v1h-1zM89,315h1v1h-1zM90,315h1v1h-1zM93,317h1v1h-1zM94,317h1v1h-1zM95,318h1v1h-1zM96,318h1v1h-1zM99,320h1v1h-1zM100,320h1v1h-1zM101,321h1v1h-1zM104,322h1v1h-1zM105,323h1v1h-1zM106,323h1v1h-1zM107,324h1v1h-1zM109,325h1v1h-1zM110,325h1v1h-1zM111,326h1v1h-1zM112,326h1v1h-1zM115,327h1v1h-1zM116,328h1v1h-1zM117,328h1v1h-1zM120,330h1v1h-1zM121,330h1v1h-1zM122,331h1v1h-1zM123,331h1v1h-1zM126,333h1v1h-1zM127,333h1v1h-1zM128,333h1v1h-1zM131,335h1v1h-1zM132,335h1v1h-1zM133,336h1v1h-1zM134,336h1v1h-1zM137,338h1v1h-1zM138,338h1v1h-1zM139,339h1v1h-1zM142,340h1v1h-1zM143,340h1v1h-1zM144,341h1v1h-1zM145,341h1v1h-1zM147,342h1v1h-1zM148,343h1v1h-1zM149,343h1v1h-1zM150,344h1v1h-1zM153,345h1v1h-1zM154,345h1v1h-1zM155,346h1v1h-1zM156,346h1v1h-1zM158,347h1v1h-1zM159,348h1v1h-1zM160,348h1v1h-1zM161,349h1v1h-1zM164,350h1v1h-1zM165,350h1v1h-1zM166,351h1v1h-1zM169,352h1v1h-1zM170,353h1v1h-1zM171,353h1v1h-1zM172,354h1v1h-1zM175,355h1v1h-1zM176,355h1v1h-1zM177,356h1v1h-1zM180,357h1v1h-1zM181,358h1v1h-1zM182,358h1v1h-1zM183,358h1v1h-1zM186,360h1v1h-1zM187,360h1v1h-1zM188,361h1v1h-1zM191,362h1v1h-1zM192,362h1v1h-1zM193,363h1v1h-1zM194,363h1v1h-1zM197,365h1v1h-1zM198,365h1v1h-1zM199,365h1v1h-1zM202,367h1v1h-1zM203,367h1v1h-1zM204,368h1v1h-1zM205,368h1v1h-1zM208,369h1v1h-1zM209,370h1v1h-1zM210,370h1v1h-1zM213,371h1v1h-1zM214,372h1v1h-1zM215,372h1v1h-1zM216,373h1v1h-1zM219,374h1v1h-1zM220,374h1v1h-1zM221,375h1v1h-1zM224,376h1v1h-1zM225,377h1v1h-1zM226,377h1v1h-1zM227,377h1v1h-1zM230,379h1v1h-1zM231,379h1v1h-1zM232,379h1v1h-1zM233,380h1v1h-1zM235,381h1v1h-1zM236,381h1v1h-1zM237,382h1v1h-1zM238,382h1v1h-1zM241,383h1v1h-1zM242,384h1v1h-1zM243,384h1v1h-1zM244,384h1v1h-1zM246,385h1v1h-1zM247,386h1v1h-1zM248,386h1v1h-1zM249,386h1v1h-1zM252,388h1v1h-1zM253,388h1v1h-1zM254,388h1v1h-1zM255,389h1v1h-1zM258,390h1v1h-1zM259,390h1v1h-1zM260,391h1v1h-1zM263,392h1v1h-1zM264,392h1v1h-1zM265,393h1v1h-1zM266,393h1v1h-1zM269,394h1v1h-1zM270,395h1v1h-1zM271,395h1v1h-1zM274,396h1v1h-1zM275,397h1v1h-1zM276,397h1v1h-1zM277,398h1v1h-1zM280,399h1v1h-1zM281,399h1v1h-1zM282,399h1v1h-1zM283,400h1v1h-1zM286,401h1v1h-1zM287,401h1v1h-1zM288,402h1v1h-1zM291,403h1v1h-1zM292,403h1v1h-1zM293,404h1v1h-1zM294,404h1v1h-1zM297,405h1v1h-1zM298,405h1v1h-1zM299,406h1v1h-1zM300,406h1v1h-1zM302,407h1v1h-1zM303,407h1v1h-1zM304,408h1v1h-1zM305,408h1v1h-1zM308,409h1v1h-1zM309,410h1v1h-1zM310,410h1v1h-1zM311,410h1v1h-1zM314,411h1v1h-1zM315,412h1v1h-1zM316,412h1v1h-1zM319,413h1v1h-1zM320,413h1v1h-1zM321,414h1v1h-1zM322,414h1v1h-1zM325,415h1v1h-1zM326,416h1v1h-1zM327,416h1v1h-1zM328,416h1v1h-1zM331,417h1v1h-1zM332,418h1v1h-1zM333,418h1v1h-1zM336,419h1v1h-1zM337,419h1v1h-1zM338,420h1v1h-1zM339,420h1v1h-1zM342,421h1v1h-1zM343,421h1v1h-1zM344,422h1v1h-1zM345,422h1v1h-1zM348,423h1v1h-1zM349,424h1v1h-1zM350,424h1v1h-1zM353,425h1v1h-1zM354,425h1v1h-1zM355,425h1v1h-1zM356,426h1v1h-1zM359,427h1v1h-1zM360,427h1v1h-1zM361,427h1v1h-1zM362,428h1v1h-1zM365,429h1v1h-1zM366,429h1v1h-1zM367,429h1v1h-1zM368,430h1v1h-1zM370,430h1v1h-1zM371,431h1v1h-1zM372,431h1v1h-1zM373,431h1v1h-1zM376,432h1v1h-1zM377,433h1v1h-1zM378,433h1v1h-1zM379,433h1v1h-1zM382,434h1v1h-1zM383,434h1v1h-1zM384,435h1v1h-1zM385,435h1v1h-1zM388,436h1v1h-1zM389,436h1v1h-1zM390,437h1v1h-1zM391,437h1v1h-1zM393,437h1v1h-1zM394,438h1v1h-1zM395,438h1v1h-1zM396,438h1v1h-1zM399,439h1v1h-1zM400,439h1v1h-1zM401,440h1v1h-1zM402,440h1v1h-1zM405,441h1v1h-1zM406,441h1v1h-1zM407,442h1v1h-1zM408,442h1v1h-1zM411,443h1v1h-1zM412,443h1v1h-1zM413,443h1v1h-1zM414,443h1v1h-1zM416,444h1v1h-1zM417,444h1v1h-1zM418,445h1v1h-1zM419,445h1v1h-1zM422,446h1v1h-1zM423,446h1v1h-1zM424,446h1v1h-1zM425,447h1v1h-1zM428,447h1v1h-1zM429,448h1v1h-1zM430,448h1v1h-1zM431,448h1v1h-1zM434,449h1v1h-1zM435,449h1v1h-1zM436,449h1v1h-1zM437,450h1v1h-1zM440,450h1v1h-1zM441,451h1v1h-1zM442,451h1v1h-1zM443,451h1v1h-1zM445,452h1v1h-1zM446,452h1v1h-1zM447,452h1v1h-1zM448,452h1v1h-1zM451,453h1v1h-1zM452,453h1v1h-1zM453,454h1v1h-1zM454,454h1v1h-1zM457,455h1v1h-1zM458,455h1v1h-1zM459,455h1v1h-1zM460,455h1v1h-1zM463,456h1v1h-1zM464,456h1v1h-1zM465,457h1v1h-1zM466,457h1v1h-1zM469,457h1v1h-1zM470,458h1v1h-1zM471,458h1v1h-1zM472,458h1v1h-1zM475,459h1v1h-1zM476,459h1v1h-1zM477,459h1v1h-1zM478,459h1v1h-1zM481,460h1v1h-1zM482,460h1v1h-1zM483,461h1v1h-1zM486,461h1v1h-1z"/>
<path fill="#0000ff" fill-opacity="0.8" d="M71,291h1v1h-1zM72,292h1v1h-1zM73,292h1v1h-1zM76,294h1v1h-1zM77,294h1v1h-1zM80,296h1v1h-1zM81,296h1v1h-1zM82,297h1v1h-1zM85,298h1v1h-1zM86,299h1v1h-1zM89,300h1v1h-1zM90,300h1v1h-1zM91,301h1v1h-1zM94,302h1v1h-1zM95,303h1v1h-1zM98,304h1v1h-1zM99,305h1v1h-1zM100,305h1v1h-1zM103,307h1v1h-1zM104,307h1v1h-1zM107,309h1v1h-1zM108,309h1v1h-1zM109,310h1v1h-1zM112,311h1v1h-1zM113,312h1v1h-1zM116,313h1v1h-1zM117,314h1v1h-1zM118,314h1v1h-1zM121,316h1v1h-1zM122,316h1v1h-1zM125,318h1v1h-1zM126,318h1v1h-1zM127,319h1v1h-1zM130,320h1v1h-1zM131,320h1v1h-1zM134,322h1v1h-1zM135,322h1v1h-1zM136,323h1v1h-1zM139,324h1v1h-1zM140,325h1v1h-1zM143,326h1v1h-1zM144,327h1v1h-1zM145,327h1v1h-1zM148,329h1v1h-1zM149,329h1v1h-1zM152,331h1v1h-1zM153,331h1v1h-1zM154,331h1v1h-1zM157,333h1v1h-1zM158,333h1v1h-1zM161,335h1v1h-1zM162,335h1v1h-1zM163,336h1v1h-1zM166,337h1v1h-1zM167,338h1v1h-1zM171,339h1v1h-1zM172,340h1v1h-1zM175,341h1v1h-1zM176,342h1v1h-1zM180,344h1v1h-1zM181,344h1v1h-1zM184,345h1v1h-1zM185,346h1v1h-1zM189,348h1v1h-1zM190,348h1v1h-1zM193,350h1v1h-1zM194,350h1v1h-1zM198,352h1v1h-1zM199,352h1v1h-1zM202,354h1v1h-1zM203,354h1v1h-1zM204,355h1v1h-1zM207,356h1v1h-1zM208,356h1v1h-1zM211,358h1v1h-1zM212,358h1v1h-1zM213,359h1v1h-1zM216,360h1v1h-1zM217,360h1v1h-1zM221,362h1v1h-1zM222,363h1v1h-1zM225,364h1v1h-1zM226,364h1v1h-1zM230,366h1v1h-1zM231,367h1v1h-1zM234,368h1v1h-1zM235,368h1v1h-1zM236,369h1v1h-1zM239,370h1v1h-1zM240,371h1v1h-1zM243,372h1v1h-1zM244,372h1v1h-1zM245,373h1v1h-1zM248,374h1v1h-1zM249,375h1v1h-1zM253,376h1v1h-1zM254,377h1v1h-1zM257,378h1v1h-1zM258,378h1v1h-1zM259,379h1v1h-1zM262,380h1v1h-1zM263,380h1v1h-1zM266,382h1v1h-1zM267,382h1v1h-1zM268,383h1v1h-1zM271,384h1v1h-1zM272,384h1v1h-1zM276,386h1v1h-1zM277,386h1v1h-1zM280,388h1v1h-1zM281,388h1v1h-1zM282,388h1v1h-1zM285,390h1v1h-1zM286,390h1v1h-1zM290,392h1v1h-1zM291,392h1v1h-1zM294,393h1v1h-1zM295,394h1v1h-1zM299,395h1v1h-1zM300,396h1v1h-1zM303,397h1v1h-1zM304,397h1v1h-1zM305,398h1v1h-1zM308,399h1v1h-1zM309,399h1v1h-1zM313,401h1v1h-1zM314,401h1v1h-1zM317,402h1v1h-1zM318,403h1v1h-1zM319,403h1v1h-1zM322,404h1v1h-1zM323,405h1v1h-1zM327,406h1v1h-1zM328,407h1v1h-1zM331,408h1v1h-1zM332,408h1v1h-1zM333,408h1v1h-1zM336,410h1v1h-1zM337,410h1v1h-1zM341,411h1v1h-1zM342,412h1v1h-1zM345,413h1v1h-1zM346,413h1v1h-1zM347,414h1v1h-1zM350,415h1v1h-1zM351,415h1v1h-1zM352,415h1v1h-1zM355,417h1v1h-1zM356,417h1v1h-1zM360,418h1v1h-1zM361,419h1v1h-1zM364,420h1v1h-1zM365,420h1v1h-1zM366,420h1v1h-1zM369,422h1v1h-1zM370,422h1v1h-1zM374,423h1v1h-1zM375,424h1v1h-1zM378,425h1v1h-1zM379,425h1v1h-1zM380,425h1v1h-1zM383,426h1v1h-1zM384,427h1v1h-1zM385,427h1v1h-1zM388,428h1v1h-1zM389,428h1v1h-1zM393,430h1v1h-1zM394,430h1v1h-1zM397,431h1v1h-1zM398,431h1v1h-1zM399,432h1v1h-1zM402,433h1v1h-1zM403,433h1v1h-1zM404,433h1v1h-1zM407,434h1v1h-1zM408,435h1v1h-1zM412,436h1v1h-1zM413,436h1v1h-1zM416,437h1v1h-1zM417,437h1v1h-1zM418,438h1v1h-1zM421,439h1v1h-1zM422,439h1v1h-1zM423,439h1v1h-1zM426,440h1v1h-1zM427,440h1v1h-1zM431,442h1v1h-1zM432,442h1v1h-1zM436,443h1v1h-1zM437,443h1v1h-1zM440,444h1v1h-1zM441,445h1v1h-1zM442,445h1v1h-1zM445,446h1v1h-1zM446,446h1v1h-1zM447,446h1v1h-1zM450,447h1v1h-1zM451,447h1v1h-1zM455,448h1v1h-1zM456,449h1v1h-1zM460,450h1v1h-1zM461,450h1v1h-1zM465,451h1v1h-1zM466,451h1v1h-1zM469,452h1v1h-1zM470,452h1v1h-1zM471,453h1v1h-1zM474,454h1v1h-1zM475,454h1v1h-1zM476,454h1v1h-1zM479,455h1v1h-1zM480,455h1v1h-1zM484,456h1v1h-1zM485,456h1v1h-1zM489,457h1v1h-1zM490,457h1v1h-1zM494,458h1v1h-1zM495,459h1v1h-1zM498,459h1v1h-1zM499,460h1v1h-1zM500,460h1v1h-1zM503,460h1v1h-1zM504,461h1v1h-1zM505,461h1v1h-1z"/>
<path fill="#ff00ff" fill-opacity="0.4" d="M246,461h1v1h-1zM247,461h1v1h-1zM251,459h1v1h-1zM252,458h1v1h-1zM255,457h1v1h-1zM256,456h1v1h-1zM260,455h1v1h-1zM261,454h1v1h-1zM264,453h1v1h-1zM265,452h1v1h-1zM269,450h1v1h-1zM270,450h1v1h-1zM273,448h1v1h-1zM274,448h1v1h-1zM278,445h1v1h-1zM279,445h1v1h-1zM282,443h1v1h-1zM283,443h1v1h-1zM287,441h1v1h-1zM288,440h1v1h-1zM291,439h1v1h-1zM292,438h1v1h-1zM296,436h1v1h-1zM300,434h1v1h-1zM301,434h1v1h-1zM305,432h1v1h-1zM309,430h1v1h-1zM310,429h1v1h-1zM313,428h1v1h-1zM314,427h1v1h-1zM318,425h1v1h-1zM319,424h1v1h-1zM322,423h1v1h-1zM323,422h1v1h-1zM327,420h1v1h-1zM331,418h1v1h-1zM332,418h1v1h-1zM336,415h1v1h-1zM340,413h1v1h-1zM341,413h1v1h-1zM344,411h1v1h-1zM345,411h1v1h-1zM349,409h1v1h-1zM350,408h1v1h-1zM353,406h1v1h-1zM354,406h1v1h-1zM358,404h1v1h-1zM362,402h1v1h-1zM363,401h1v1h-1zM366,399h1v1h-1zM367,399h1v1h-1zM371,397h1v1h-1zM372,396h1v1h-1zM375,395h1v1h-1zM376,394h1v1h-1zM380,392h1v1h-1zM384,390h1v1h-1zM385,389h1v1h-1zM388,387h1v1h-1zM389,387h1v1h-1zM393,385h1v1h-1zM394,384h1v1h-1zM397,383h1v1h-1zM398,382h1v1h-1zM402,380h1v1h-1zM406,378h1v1h-1zM407,377h1v1h-1zM410,375h1v1h-1zM411,375h1v1h-1zM415,373h1v1h-1zM419,370h1v1h-1zM420,370h1v1h-1zM423,368h1v1h-1zM424,368h1v1h-1zM428,366h1v1h-1zM429,365h1v1h-1zM432,363h1v1h-1zM433,363h1v1h-1zM437,361h1v1h-1zM441,358h1v1h-1zM442,358h1v1h-1zM445,356h1v1h-1zM446,356h1v1h-1zM450,353h1v1h-1zM454,351h1v1h-1zM455,351h1v1h-1zM458,349h1v1h-1zM459,348h1v1h-1zM463,346h1v1h-1zM464,346h1v1h-1zM467,344h1v1h-1zM468,343h1v1h-1zM472,341h1v1h-1zM476,339h1v1h-1zM477,338h1v1h-1zM480,337h1v1h-1zM481,336h1v1h-1zM485,334h1v1h-1zM489,332h1v1h-1zM490,331h1v1h-1zM493,329h1v1h-1zM494,329h1v1h-1zM498,327h1v1h-1zM499,326h1v1h-1zM502,324h1v1h-1zM503,324h1v1h-1zM507,322h1v1h-1zM511,319h1v1h-1zM512,319h1v1h-1zM515,317h1v1h-1zM516,317h1v1h-1zM520,314h1v1h-1zM524,312h1v1h-1zM525,312h1v1h-1zM528,310h1v1h-1zM529,309h1v1h-1zM533,307h1v1h-1zM537,305h1v1h-1zM538,304h1v1h-1zM541,303h1v1h-1zM542,302h1v1h-1zM546,300h1v1h-1zM547,299h1v1h-1zM550,298h1v1h-1zM551,297h1v1h-1zM555,295h1v1h-1zM559,293h1v1h-1zM560,292h1v1h-1zM563,291h1v1h-1zM564,290h1v1h-1zM568,288h1v1h-1zM572,286h1v1h-1zM573,285h1v1h-1zM577,283h1v1h-1zM581,281h1v1h-1zM582,280h1v1h-1zM585,278h1v1h-1zM586,278h1v1h-1z"/>
<path fill="#ff00ff" fill-opacity="0.9" d="M249,460h1v1h-1zM254,457h1v1h-1zM258,455h1v1h-1zM263,453h1v1h-1zM267,451h1v1h-1zM272,449h1v1h-1zM276,446h1v1h-1zM280,444h1v1h-1zM285,442h1v1h-1zM289,440h1v1h-1zM294,437h1v1h-1zM298,435h1v1h-1zM303,433h1v1h-1zM307,431h1v1h-1zM312,428h1v1h-1zM316,426h1v1h-1zM320,424h1v1h-1zM325,421h1v1h-1zM329,419h1v1h-1zM334,417h1v1h-1zM338,414h1v1h-1zM343,412h1v1h-1zM347,410h1v1h-1zM351,407h1v1h-1zM356,405h1v1h-1zM360,403h1v1h-1zM365,400h1v1h-1zM369,398h1v1h-1zM373,396h1v1h-1zM378,393h1v1h-1zM382,391h1v1h-1zM387,388h1v1h-1zM391,386h1v1h-1zM395,384h1v1h-1zM400,381h1v1h-1zM404,379h1v1h-1zM409,376h1v1h-1zM413,374h1v1h-1zM417,372h1v1h-1zM422,369h1v1h-1zM426,367h1v1h-1zM430,364h1v1h-1zM435,362h1v1h-1zM439,359h1v1h-1zM444,357h1v1h-1zM448,354h1v1h-1zM452,352h1v1h-1zM457,349h1v1h-1zM461,347h1v1h-1zM465,345h1v1h-1zM470,342h1v1h-1zM474,340h1v1h-1zM479,337h1v1h-1zM483,335h1v1h-1zM487,333h1v1h-1zM492,330h1v1h-1zM496,328h1v1h-1zM500,326h1v1h-1zM505,323h1v1h-1zM509,320h1v1h-1zM513,318h1v1h-1zM518,315h1v1h-1zM522,313h1v1h-1zM527,310h1v1h-1zM531,308h1v1h-1zM535,306h1v1h-1zM540,303h1v1h-1zM544,301h1v1h-1zM548,299h1v1h-1zM553,296h1v1h-1zM557,294h1v1h-1zM562,291h1v1h-1zM566,289h1v1h-1zM570,287h1v1h-1zM575,284h1v1h-1zM579,282h1v1h-1zM583,280h1v1h-1zM588,277h1v1h-1z"/>
<path fill="#00ffff" fill-opacity="0.72" d="M338,461h1v1h-1zM339,461h1v1h-1zM340,460h1v1h-1zM341,460h1v1h-1zM342,460h1v1h-1zM344,459h1v1h-1zM347,457h1v1h-1zM348,457h1v1h-1zM349,457h1v1h-1zM350,456h1v1h-1zM351,456h1v1h-1zM353,455h1v1h-1zM354,454h1v1h-1zM356,453h1v1h-1zM357,453h1v1h-1zM358,453h1v1h-1zM359,452h1v1h-1zM360,452h1v1h-1zM362,451h1v1h-1zM363,450h1v1h-1zM365,449h1v1h-1zM366,449h1v1h-1zM367,449h1v1h-1zM368,448h1v1h-1zM369,448h1v1h-1zM371,447h1v1h-1zM372,446h1v1h-1zM375,445h1v1h-1zM376,445h1v1h-1zM377,444h1v1h-1zM378,444h1v1h-1zM381,442h1v1h-1zM384,441h1v1h-1zM385,440h1v1h-1zM386,440h1v1h-1zM387,440h1v1h-1zM390,438h1v1h-1zM393,437h1v1h-1zM394,436h1v1h-1zM395,436h1v1h-1zM396,435h1v1h-1zM399,434h1v1h-1zM402,433h1v1h-1zM403,432h1v1h-1zM404,432h1v1h-1zM405,431h1v1h-1zM408,430h1v1h-1zM411,428h1v1h-1zM412,428h1v1h-1zM413,427h1v1h-1zM414,427h1v1h-1zM417,426h1v1h-1zM420,424h1v1h-1zM421,424h1v1h-1zM422,423h1v1h-1zM423,423h1v1h-1zM426,421h1v1h-1zM429,420h1v1h-1zM430,419h1v1h-1zM431,419h1v1h-1zM432,418h1v1h-1zM435,417h1v1h-1zM438,415h1v1h-1zM439,415h1v1h-1zM440,414h1v1h-1zM441,414h1v1h-1zM444,413h1v1h-1zM447,411h1v1h-1zM448,411h1v1h-1zM449,410h1v1h-1zM450,410h1v1h-1zM453,408h1v1h-1zM456,407h1v1h-1zM457,406h1v1h-1zM458,406h1v1h-1zM459,405h1v1h-1zM462,404h1v1h-1zM465,402h1v1h-1zM466,402h1v1h-1zM467,401h1v1h-1zM468,401h1v1h-1zM471,399h1v1h-1zM474,398h1v1h-1zM475,397h1v1h-1zM476,397h1v1h-1zM477,396h1v1h-1zM480,395h1v1h-1zM483,393h1v1h-1zM484,393h1v1h-1zM485,392h1v1h-1zM486,392h1v1h-1zM489,390h1v1h-1zM492,389h1v1h-1zM493,388h1v1h-1zM494,388h1v1h-1zM495,387h1v1h-1zM498,386h1v1h-1zM501,384h1v1h-1zM502,384h1v1h-1zM503,383h1v1h-1zM504,383h1v1h-1zM506,382h1v1h-1zM507,381h1v1h-1zM510,380h1v1h-1zM511,379h1v1h-1zM512,378h1v1h-1zM513,378h1v1h-1zM515,377h1v1h-1zM516,376h1v1h-1zM518,375h1v1h-1zM519,375h1v1h-1zM520,374h1v1h-1zM521,374h1v1h-1zM522,373h1v1h-1zM524,372h1v1h-1zM525,372h1v1h-1zM527,371h1v1h-1zM528,370h1v1h-1zM529,370h1v1h-1zM530,369h1v1h-1zM531,369h1v1h-1zM533,368h1v1h-1zM536,366h1v1h-1zM537,366h1v1h-1zM538,365h1v1h-1zM539,365h1v1h-1zM540,364h1v1h-1zM542,363h1v1h-1zM545,361h1v1h-1zM546,361h1v1h-1zM547,360h1v1h-1zM548,360h1v1h-1zM549,359h1v1h-1zM551,358h1v1h-1zM554,357h1v1h-1zM555,356h1v1h-1zM556,356h1v1h-1zM557,355h1v1h-1zM560,354h1v1h-1zM563,352h1v1h-1zM564,352h1v1h-1zM565,351h1v1h-1zM566,350h1v1h-1zM569,349h1v1h-1zM572,347h1v1h-1zM573,347h1v1h-1zM574,346h1v1h-1zM575,346h1v1h-1zM577,345h1v1h-1zM578,344h1v1h-1zM581,343h1v1h-1zM582,342h1v1h-1zM583,342h1v1h-1zM584,341h1v1h-1zM586,340h1v1h-1zM587,339h1v1h-1z"/>
<path fill="#ff0000" fill-opacity="0.85" d="M490,461h1v1h-1zM491,460h1v1h-1zM492,460h1v1h-1zM493,460h1v1h-1zM494,459h1v1h-1zM495,459h1v1h-1zM496,458h1v1h-1zM497,458h1v1h-1zM498,458h1v1h-1zM499,457h1v1h-1zM500,457h1v1h-1zM501,456h1v1h-1zM502,456h1v1h-1zM503,456h1v1h-1zM504,455h1v1h-1zM505,455h1v1h-1zM506,454h1v1h-1zM507,454h1v1h-1zM508,454h1v1h-1zM509,453h1v1h-1zM510,453h1v1h-1zM511,452h1v1h-1zM512,452h1v1h-1zM513,451h1v1h-1zM514,451h1v1h-1zM515,451h1v1h-1zM516,450h1v1h-1zM517,450h1v1h-1zM518,449h1v1h-1zM519,449h1v1h-1zM520,449h1v1h-1zM521,448h1v1h-1zM522,448h1v1h-1zM523,447h1v1h-1zM524,447h1v1h-1zM525,446h1v1h-1zM526,446h1v1h-1zM527,446h1v1h-1zM528,445h1v1h-1zM529,445h1v1h-1zM530,444h1v1h-1zM531,444h1v1h-1zM532,443h1v1h-1zM533,443h1v1h-1zM534,443h1v1h-1zM535,442h1v1h-1zM536,442h1v1h-1zM537,441h1v1h-1zM538,441h1v1h-1zM539,440h1v1h-1zM540,440h1v1h-1zM541,440h1v1h-1zM542,439h1v1h-1zM543,439h1v1h-1zM544,438h1v1h-1zM545,438h1v1h-1zM546,437h1v1h-1zM547,437h1v1h-1zM548,437h1v1h-1zM549,436h1v1h-1zM550,436h1v1h-1zM551,435h1v1h-1zM552,435h1v1h-1zM553,434h1v1h-1zM554,434h1v1h-1zM555,434h1v1h-1zM556,433h1v1h-1zM557,433h1v1h-1zM558,432h1v1h-1zM559,432h1v1h-1zM560,431h1v1h-1zM561,431h1v1h-1zM562,431h1v1h-1zM563,430h1v1h-1zM564,430h1v1h-1zM565,429h1v1h-1zM566,429h1v1h-1zM567,428h1v1h-1zM568,428h1v1h-1zM569,427h1v1h-1zM570,427h1v1h-1zM571,427h1v1h-1zM572,426h1v1h-1zM573,426h1v1h-1zM574,425h1v1h-1zM575,425h1v1h-1zM576,424h1v1h-1zM577,424h1v1h-1zM578,423h1v1h-1zM579,423h1v1h-1zM580,423h1v1h-1zM581,422h1v1h-1zM582,422h1v1h-1zM583,421h1v1h-1zM584,421h1v1h-1zM585,420h1v1h-1zM586,420h1v1h-1zM587,419h1v1h-1zM588,419h1v1h-1zM589,418h1v1h-1z"/>
<path fill="#ffff00" fill-opacity="0.75" d="M71,205h1v1h-1zM72,206h1v1h-1zM73,206h1v1h-1zM74,207h1v1h-1zM78,209h1v1h-1zM81,211h1v1h-1zM82,211h1v1h-1zM83,212h1v1h-1zM84,212h1v1h-1zM87,214h1v1h-1zM91,216h1v1h-1zM92,216h1v1h-1zM93,217h1v1h-1zM94,217h1v1h-1zM97,219h1v1h-1zM101,221h1v1h-1zM102,221h1v1h-1zM103,222h1v1h-1zM107,224h1v1h-1zM111,226h1v1h-1zM112,227h1v1h-1zM113,227h1v1h-1zM117,229h1v1h-1zM120,231h1v1h-1zM121,231h1v1h-1zM122,232h1v1h-1zM123,232h1v1h-1zM127,234h1v1h-1zM130,236h1v1h-1zM131,236h1v1h-1zM132,237h1v1h-1zM133,237h1v1h-1zM136,239h1v1h-1zM140,241h1v1h-1zM141,241h1v1h-1zM142,242h1v1h-1zM143,242h1v1h-1zM146,244h1v1h-1zM150,246h1v1h-1zM151,246h1v1h-1zM152,247h1v1h-1zM156,249h1v1h-1zM160,251h1v1h-1zM161,251h1v1h-1zM162,252h1v1h-1zM166,254h1v1h-1zM169,255h1v1h-1zM170,256h1v1h-1zM171,256h1v1h-1zM172,257h1v1h-1zM176,259h1v1h-1zM179,260h1v1h-1zM180,261h1v1h-1zM181,261h1v1h-1zM182,262h1v1h-1zM186,264h1v1h-1zM189,265h1v1h-1zM190,266h1v1h-1zM191,266h1v1h-1zM192,267h1v1h-1zM195,268h1v1h-1zM199,270h1v1h-1zM200,271h1v1h-1zM201,271h1v1h-1zM202,272h1v1h-1zM205,273h1v1h-1zM209,275h1v1h-1zM210,276h1v1h-1zM211,276h1v1h-1zM212,277h1v1h-1zM215,278h1v1h-1zM219,280h1v1h-1zM220,280h1v1h-1zM221,281h1v1h-1zM225,283h1v1h-1zM229,285h1v1h-1zM230,285h1v1h-1zM231,286h1v1h-1zM235,288h1v1h-1zM239,290h1v1h-1zM240,290h1v1h-1zM241,291h1v1h-1zM245,292h1v1h-1zM249,294h1v1h-1zM250,295h1v1h-1zM251,295h1v1h-1zM255,297h1v1h-1zM259,299h1v1h-1zM260,300h1v1h-1zM261,300h1v1h-1zM265,302h1v1h-1zM269,304h1v1h-1zM270,304h1v1h-1zM271,305h1v1h-1zM275,307h1v1h-1zM278,308h1v1h-1zM279,308h1v1h-1zM280,309h1v1h-1zM281,309h1v1h-1zM285,311h1v1h-1zM288,313h1v1h-1zM289,313h1v1h-1zM290,313h1v1h-1zM291,314h1v1h-1zM295,316h1v1h-1zM298,317h1v1h-1zM299,318h1v1h-1zM300,318h1v1h-1zM301,318h1v1h-1zM305,320h1v1h-1zM308,322h1v1h-1zM309,322h1v1h-1zM310,323h1v1h-1zM311,323h1v1h-1zM315,325h1v1h-1zM319,327h1v1h-1zM320,327h1v1h-1zM321,327h1v1h-1zM325,329h1v1h-1zM329,331h1v1h-1zM330,331h1v1h-1zM331,332h1v1h-1zM335,334h1v1h-1zM339,335h1v1h-1zM340,336h1v1h-1zM341,336h1v1h-1zM345,338h1v1h-1zM349,340h1v1h-1zM350,340h1v1h-1zM351,341h1v1h-1zM355,342h1v1h-1zM359,344h1v1h-1zM360,344h1v1h-1zM361,345h1v1h-1zM362,345h1v1h-1zM365,347h1v1h-1zM369,348h1v1h-1zM370,349h1v1h-1zM371,349h1v1h-1zM372,350h1v1h-1zM375,351h1v1h-1zM379,352h1v1h-1zM380,353h1v1h-1zM381,353h1v1h-1zM382,354h1v1h-1zM386,355h1v1h-1zM389,357h1v1h-1zM390,357h1v1h-1zM391,357h1v1h-1zM392,358h1v1h-1zM396,359h1v1h-1zM399,361h1v1h-1zM400,361h1v1h-1zM401,361h1v1h-1zM402,362h1v1h-1zM406,363h1v1h-1zM410,365h1v1h-1zM411,365h1v1h-1zM412,366h1v1h-1zM416,367h1v1h-1zM420,369h1v1h-1zM421,369h1v1h-1zM422,370h1v1h-1zM423,370h1v1h-1zM426,371h1v1h-1zM430,373h1v1h-1zM431,373h1v1h-1zM432,374h1v1h-1zM433,374h1v1h-1zM437,376h1v1h-1zM440,377h1v1h-1zM441,377h1v1h-1zM442,378h1v1h-1zM443,378h1v1h-1zM447,379h1v1h-1zM451,381h1v1h-1zM452,381h1v1h-1zM453,382h1v1h-1zM457,383h1v1h-1zM461,385h1v1h-1zM462,385h1v1h-1zM463,385h1v1h-1zM464,386h1v1h-1zM468,387h1v1h-1zM471,388h1v1h-1zM472,389h1v1h-1zM473,389h1v1h-1zM474,389h1v1h-1zM478,391h1v1h-1zM482,392h1v1h-1zM483,393h1v1h-1zM484,393h1v1h-1zM485,393h1v1h-1zM488,394h1v1h-1zM492,396h1v1h-1zM493,396h1v1h-1zM494,396h1v1h-1zM495,397h1v1h-1zM499,398h1v1h-1zM503,399h1v1h-1zM504,400h1v1h-1zM505,400h1v1h-1zM509,401h1v1h-1zM513,403h1v1h-1zM514,403h1v1h-1zM515,403h1v1h-1zM516,404h1v1h-1zM520,405h1v1h-1zM523,406h1v1h-1zM524,406h1v1h-1zM525,407h1v1h-1zM526,407h1v1h-1zM530,408h1v1h-1zM534,410h1v1h-1zM535,410h1v1h-1zM536,410h1v1h-1zM537,411h1v1h-1zM541,412h1v1h-1zM544,413h1v1h-1zM545,413h1v1h-1zM546,413h1v1h-1zM547,414h1v1h-1zM551,415h1v1h-1zM555,416h1v1h-1zM556,416h1v1h-1zM557,417h1v1h-1zM558,417h1v1h-1zM562,418h1v1h-1zM565,419h1v1h-1zM566,419h1v1h-1zM567,420h1v1h-1zM568,420h1v1h-1zM572,421h1v1h-1zM576,422h1v1h-1zM577,423h1v1h-1zM578,423h1v1h-1zM579,423h1v1h-1zM583,424h1v1h-1zM587,425h1v1h-1zM588,426h1v1h-1zM589,426h1v1h-1zM593,427h1v1h-1zM597,428h1v1h-1zM598,428h1v1h-1zM599,429h1v1h-1zM600,429h1v1h-1zM604,430h1v1h-1zM608,431h1v1h-1zM609,431h1v1h-1zM610,432h1v1h-1zM611,432h1v1h-1zM615,433h1v1h-1zM618,434h1v1h-1zM619,434h1v1h-1zM620,434h1v1h-1zM621,434h1v1h-1zM625,435h1v1h-1zM629,436h1v1h-1zM630,437h1v1h-1zM631,437h1v1h-1zM632,437h1v1h-1zM636,438h1v1h-1zM640,439h1v1h-1zM641,439h1v1h-1zM642,439h1v1h-1zM643,440h1v1h-1zM647,440h1v1h-1zM651,441h1v1h-1z"/>
</g>
<path filter="url(#soft)" fill="#000" d="M72,368h580v1h-580z"/>
<path fill="#ffff00" d="M456.60,380.66H460.20L462.30,382.66V385.86L460.20,387.86H456.60L454.50,385.86V382.66ZM461.57,382.49H465.17L467.27,384.49V387.69L465.17,389.69H461.57L459.47,387.69V384.49ZM466.53,384.30H470.13L472.23,386.30V389.50L470.13,391.50H466.53L464.43,389.50V386.30ZM471.50,386.10H475.10L477.20,388.10V391.30L475.10,393.30H471.50L469.40,391.30V388.10ZM476.47,387.87H480.07L482.17,389.87V393.07L480.07,395.07H476.47L474.37,393.07V389.87ZM481.43,389.64H485.03L487.13,391.64V394.84L485.03,396.84H481.43L479.33,394.84V391.64ZM486.40,391.38H490.00L492.10,393.38V396.58L490.00,398.58H486.40L484.30,396.58V393.38ZM491.37,393.11H494.97L497.07,395.11V398.31L494.97,400.31H491.37L489.27,398.31V395.11ZM496.33,394.82H499.93L502.03,396.82V400.02L499.93,402.02H496.33L494.23,400.02V396.82ZM501.30,396.52H504.90L507.00,398.52V401.72L504.90,403.72H501.30L499.20,401.72V398.52ZM506.27,398.20H509.87L511.97,400.20V403.40L509.87,405.40H506.27L504.17,403.40V400.20ZM511.23,399.86H514.83L516.93,401.86V405.06L514.83,407.06H511.23L509.13,405.06V401.86ZM516.20,401.50H519.80L521.90,403.50V406.70L519.80,408.70H516.20L514.10,406.70V403.50ZM521.17,403.13H524.77L526.87,405.13V408.33L524.77,410.33H521.17L519.07,408.33V405.13ZM526.13,404.74H529.73L531.83,406.74V409.94L529.73,411.94H526.13L524.03,409.94V406.74ZM531.10,406.33H534.70L536.80,408.33V411.53L534.70,413.53H531.10L529.00,411.53V408.33ZM536.07,407.90H539.67L541.77,409.90V413.10L539.67,415.10H536.07L533.97,413.10V409.90ZM541.03,409.46H544.63L546.73,411.46V414.66L544.63,416.66H541.03L538.93,414.66V411.46ZM546.00,410.99H549.60L551.70,412.99V416.19L549.60,418.19H546.00L543.90,416.19V412.99ZM550.97,412.51H554.57L556.67,414.51V417.71L554.57,419.71H550.97L548.87,417.71V414.51ZM555.93,414.01H559.53L561.63,416.01V419.21L559.53,421.21H555.93L553.83,419.21V416.01ZM560.90,415.49H564.50L566.60,417.49V420.69L564.50,422.69H560.90L558.80,420.69V417.49ZM565.87,416.95H569.47L571.57,418.95V422.15L569.47,424.15H565.87L563.77,422.15V418.95ZM570.83,418.39H574.43L576.53,420.39V423.59L574.43,425.59H570.83L568.73,423.59V420.39ZM575.80,419.81H579.40L581.50,421.81V425.01L579.40,427.01H575.80L573.70,425.01V421.81ZM580.77,421.21H584.37L586.47,423.21V426.41L584.37,428.41H580.77L578.67,426.41V423.21ZM585.73,422.59H589.33L591.43,424.59V427.79L589.33,429.79H585.73L583.63,427.79V424.59ZM590.70,423.96H594.30L596.40,425.96V429.16L594.30,431.16H590.70L588.60,429.16V425.96ZM595.67,425.30H599.27L601.37,427.30V430.50L599.27,432.50H595.67L593.57,430.50V427.30ZM600.63,426.62H604.23L606.33,428.62V431.82L604.23,433.82H600.63L598.53,431.82V428.62ZM605.60,427.92H609.20L611.30,429.92V433.12L609.20,435.12H605.60L603.50,433.12V429.92ZM610.57,429.20H614.17L616.27,431.20V434.40L614.17,436.40H610.57L608.47,434.40V431.20ZM615.53,430.47H619.13L621.23,432.47V435.67L619.13,437.67H615.53L613.43,435.67V432.47ZM620.50,431.71H624.10L626.20,433.71V436.91L624.10,438.91H620.50L618.40,436.91V433.71ZM625.47,432.93H629.07L631.17,434.93V438.13L629.07,440.13H625.47L623.37,438.13V434.93ZM630.43,434.12H634.03L636.13,436.12V439.32L634.03,441.32H630.43L628.33,439.32V436.12ZM635.40,435.30H639.00L641.10,437.30V440.50L639.00,442.50H635.40L633.30,440.50V437.30ZM640.37,436.46H643.97L646.07,438.46V441.66L643.97,443.66H640.37L638.27,441.66V438.46ZM645.33,437.59H648.93L651.03,439.59V442.79L648.93,444.79H645.33L643.23,442.79V439.59ZM650.30,438.70H653.90L656.00,440.70V443.90L653.90,445.90H650.30L648.20,443.90V440.70Z"/>
<text x="630.5" y="60.0" text-anchor="end">OGLE-TR-10b</text>
<text x="630.5" y="74.0" text-anchor="end">WASP-4b</text>
<text x="630.5" y="88.0" text-anchor="end">WASP-5b</text>
<text x="630.5" y="102.0" text-anchor="end">WASP-16b</text>
<text x="630.5" y="116.0" text-anchor="end">WASP-17b</text>
<text x="630.5" y="130.0" text-anchor="end">WASP-18b</text>
<text x="630.5" y="144.0" text-anchor="end">Transit Time</text>
<text x="630.5" y="158.0" text-anchor="end">horizontial limit</text>
<g filter="url(#soft)">
<path fill="#ff0000" fill-opacity="0.85" d="M639,55h1v1h-1zM640,55h1v1h-1zM641,55h1v1h-1zM642,55h1v1h-1zM643,55h1v1h-1zM644,55h1v1h-1zM645,55h1v1h-1zM646,55h1v1h-1zM647,55h1v1h-1zM648,55h1v1h-1zM649,55h1v1h-1zM650,55h1v1h-1zM651,55h1v1h-1zM652,55h1v1h-1zM653,55h1v1h-1zM654,55h1v1h-1zM655,55h1v1h-1zM656,55h1v1h-1zM657,55h1v1h-1zM658,55h1v1h-1zM659,55h1v1h-1zM660,55h1v1h-1zM661,55h1v1h-1zM662,55h1v1h-1zM663,55h1v1h-1zM664,55h1v1h-1zM665,55h1v1h-1zM666,55h1v1h-1zM667,55h1v1h-1zM668,55h1v1h-1zM669,55h1v1h-1zM670,55h1v1h-1zM671,55h1v1h-1zM672,55h1v1h-1zM673,55h1v1h-1zM674,55h1v1h-1zM675,55h1v1h-1zM676,55h1v1h-1zM677,55h1v1h-1zM678,55h1v1h-1zM679,55h1v1h-1z"/>
<path fill="#00ff00" fill-opacity="0.8" d="M639,69h1v1h-1zM640,69h1v1h-1zM641,69h1v1h-1zM642,69h1v1h-1zM645,69h1v1h-1zM646,69h1v1h-1zM647,69h1v1h-1zM648,69h1v1h-1zM651,69h1v1h-1zM652,69h1v1h-1zM653,69h1v1h-1zM654,69h1v1h-1zM657,69h1v1h-1zM658,69h1v1h-1zM659,69h1v1h-1zM660,69h1v1h-1zM663,69h1v1h-1zM664,69h1v1h-1zM665,69h1v1h-1zM666,69h1v1h-1zM669,69h1v1h-1zM670,69h1v1h-1zM671,69h1v1h-1zM672,69h1v1h-1zM675,69h1v1h-1zM676,69h1v1h-1zM677,69h1v1h-1zM678,69h1v1h-1z"/>
<path fill="#0000ff" fill-opacity="0.8" d="M639,83h1v1h-1zM640,83h1v1h-1zM641,83h1v1h-1zM644,83h1v1h-1zM645,83h1v1h-1zM646,83h1v1h-1zM649,83h1v1h-1zM650,83h1v1h-1zM651,83h1v1h-1zM654,83h1v1h-1zM655,83h1v1h-1zM656,83h1v1h-1zM659,83h1v1h-1zM660,83h1v1h-1zM661,83h1v1h-1zM664,83h1v1h-1zM665,83h1v1h-1zM666,83h1v1h-1zM669,83h1v1h-1zM670,83h1v1h-1zM671,83h1v1h-1zM674,83h1v1h-1zM675,83h1v1h-1zM676,83h1v1h-1z"/>
<path fill="#ff00ff" fill-opacity="0.4" d="M639,97h1v1h-1zM640,97h1v1h-1zM644,97h1v1h-1zM645,97h1v1h-1zM649,97h1v1h-1zM650,97h1v1h-1zM654,97h1v1h-1zM655,97h1v1h-1zM659,97h1v1h-1zM660,97h1v1h-1zM664,97h1v1h-1zM665,97h1v1h-1zM669,97h1v1h-1zM670,97h1v1h-1zM674,97h1v1h-1zM675,97h1v1h-1z"/>
<path fill="#ff00ff" fill-opacity="0.9" d="M642,97h1v1h-1zM647,97h1v1h-1zM652,97h1v1h-1zM657,97h1v1h-1zM662,97h1v1h-1zM667,97h1v1h-1zM672,97h1v1h-1zM677,97h1v1h-1z"/>
<path fill="#00ffff" fill-opacity="0.72" d="M639,111h1v1h-1zM640,111h1v1h-1zM641,111h1v1h-1zM642,111h1v1h-1zM643,111h1v1h-1zM646,111h1v1h-1zM649,111h1v1h-1zM650,111h1v1h-1zM651,111h1v1h-1zM652,111h1v1h-1zM653,111h1v1h-1zM656,111h1v1h-1zM659,111h1v1h-1zM660,111h1v1h-1zM661,111h1v1h-1zM662,111h1v1h-1zM663,111h1v1h-1zM666,111h1v1h-1zM669,111h1v1h-1zM670,111h1v1h-1zM671,111h1v1h-1zM672,111h1v1h-1zM673,111h1v1h-1zM676,111h1v1h-1z"/>
<path fill="#ffff00" fill-opacity="0.75" d="M639,125h1v1h-1zM640,125h1v1h-1zM641,125h1v1h-1zM642,125h1v1h-1zM646,125h1v1h-1zM650,125h1v1h-1zM651,125h1v1h-1zM652,125h1v1h-1zM653,125h1v1h-1zM657,125h1v1h-1zM661,125h1v1h-1zM662,125h1v1h-1zM663,125h1v1h-1zM664,125h1v1h-1zM668,125h1v1h-1zM672,125h1v1h-1zM673,125h1v1h-1zM674,125h1v1h-1zM675,125h1v1h-1z"/>
<path fill="#000" d="M639,153h41v1h-41z"/>
</g>
<path fill="#ffff00" d="M658,136h3v2h2v3h-2v2h-3v-2h-2v-3h2z"/>
</svg></body></html>
